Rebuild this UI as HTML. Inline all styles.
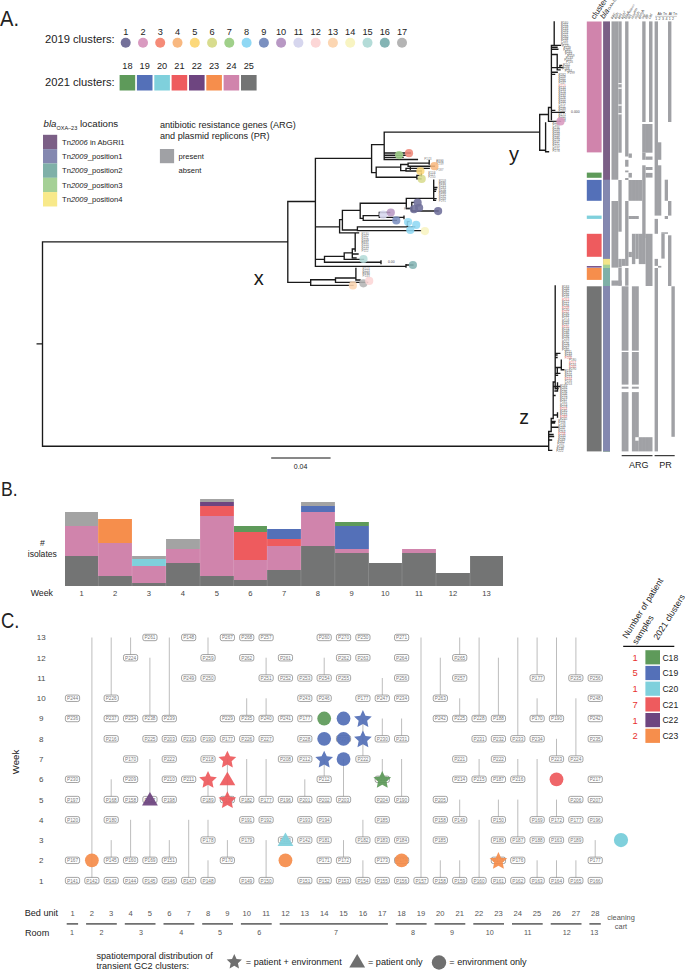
<!DOCTYPE html>
<html><head><meta charset="utf-8"><style>
html,body{margin:0;padding:0;background:#fff;width:685px;height:970px;overflow:hidden}
svg{display:block}
text{font-family:"Liberation Sans",sans-serif}
</style></head><body>
<svg width="685" height="970" viewBox="0 0 685 970">
<text x="0.0" y="25.9" font-size="21.5" fill="#222" text-anchor="start" textLength="19" lengthAdjust="spacingAndGlyphs">A.</text>
<text x="45.0" y="43.1" font-size="11.2" fill="#222" text-anchor="start" >2019 clusters:</text>
<text x="45.0" y="85.8" font-size="11.2" fill="#222" text-anchor="start" >2021 clusters:</text>
<circle cx="125.7" cy="42.8" r="5.0" fill="#74719a"/>
<text x="125.7" y="34.6" font-size="9.2" fill="#222" text-anchor="middle" >1</text>
<circle cx="143.0" cy="42.8" r="5.0" fill="#d99ac0"/>
<text x="143.0" y="34.6" font-size="9.2" fill="#222" text-anchor="middle" >2</text>
<circle cx="160.2" cy="42.8" r="5.0" fill="#f58b78"/>
<text x="160.2" y="34.6" font-size="9.2" fill="#222" text-anchor="middle" >3</text>
<circle cx="177.5" cy="42.8" r="5.0" fill="#f8b880"/>
<text x="177.5" y="34.6" font-size="9.2" fill="#222" text-anchor="middle" >4</text>
<circle cx="194.8" cy="42.8" r="5.0" fill="#fcd87a"/>
<text x="194.8" y="34.6" font-size="9.2" fill="#222" text-anchor="middle" >5</text>
<circle cx="212.1" cy="42.8" r="5.0" fill="#d8dc8e"/>
<text x="212.1" y="34.6" font-size="9.2" fill="#222" text-anchor="middle" >6</text>
<circle cx="229.3" cy="42.8" r="5.0" fill="#a0d08a"/>
<text x="229.3" y="34.6" font-size="9.2" fill="#222" text-anchor="middle" >7</text>
<circle cx="246.6" cy="42.8" r="5.0" fill="#90d8f4"/>
<text x="246.6" y="34.6" font-size="9.2" fill="#222" text-anchor="middle" >8</text>
<circle cx="263.9" cy="42.8" r="5.0" fill="#7b90c0"/>
<text x="263.9" y="34.6" font-size="9.2" fill="#222" text-anchor="middle" >9</text>
<circle cx="281.1" cy="42.8" r="5.0" fill="#b898c4"/>
<text x="281.1" y="34.6" font-size="9.2" fill="#222" text-anchor="middle" >10</text>
<circle cx="298.4" cy="42.8" r="5.0" fill="#d6d6ee"/>
<text x="298.4" y="34.6" font-size="9.2" fill="#222" text-anchor="middle" >11</text>
<circle cx="315.7" cy="42.8" r="5.0" fill="#fcd6d6"/>
<text x="315.7" y="34.6" font-size="9.2" fill="#222" text-anchor="middle" >12</text>
<circle cx="332.9" cy="42.8" r="5.0" fill="#fcd6b2"/>
<text x="332.9" y="34.6" font-size="9.2" fill="#222" text-anchor="middle" >13</text>
<circle cx="350.2" cy="42.8" r="5.0" fill="#f8f4c2"/>
<text x="350.2" y="34.6" font-size="9.2" fill="#222" text-anchor="middle" >14</text>
<circle cx="367.5" cy="42.8" r="5.0" fill="#b4dcd8"/>
<text x="367.5" y="34.6" font-size="9.2" fill="#222" text-anchor="middle" >15</text>
<circle cx="384.8" cy="42.8" r="5.0" fill="#84b4b4"/>
<text x="384.8" y="34.6" font-size="9.2" fill="#222" text-anchor="middle" >16</text>
<circle cx="402.0" cy="42.8" r="5.0" fill="#b4b4b4"/>
<text x="402.0" y="34.6" font-size="9.2" fill="#222" text-anchor="middle" >17</text>
<rect x="119.6" y="75" width="15.6" height="15.5" fill="#5e9a5a"/>
<text x="127.4" y="68.8" font-size="9.2" fill="#222" text-anchor="middle" >18</text>
<rect x="136.9" y="75" width="15.6" height="15.5" fill="#5470b8"/>
<text x="144.7" y="68.8" font-size="9.2" fill="#222" text-anchor="middle" >19</text>
<rect x="154.3" y="75" width="15.6" height="15.5" fill="#7fd0dc"/>
<text x="162.1" y="68.8" font-size="9.2" fill="#222" text-anchor="middle" >20</text>
<rect x="171.6" y="75" width="15.6" height="15.5" fill="#ee5b5e"/>
<text x="179.4" y="68.8" font-size="9.2" fill="#222" text-anchor="middle" >21</text>
<rect x="189.0" y="75" width="15.6" height="15.5" fill="#6e4580"/>
<text x="196.8" y="68.8" font-size="9.2" fill="#222" text-anchor="middle" >22</text>
<rect x="206.3" y="75" width="15.6" height="15.5" fill="#f68e4c"/>
<text x="214.1" y="68.8" font-size="9.2" fill="#222" text-anchor="middle" >23</text>
<rect x="223.6" y="75" width="15.6" height="15.5" fill="#d084ac"/>
<text x="231.4" y="68.8" font-size="9.2" fill="#222" text-anchor="middle" >24</text>
<rect x="241.0" y="75" width="15.6" height="15.5" fill="#737474"/>
<text x="248.8" y="68.8" font-size="9.2" fill="#222" text-anchor="middle" >25</text>
<text x="43.5" y="126.8" font-size="9.7" fill="#222"><tspan font-style="italic">bla</tspan><tspan font-size="5.5" dy="2.8">OXA–23</tspan><tspan dy="-2.8"> locations</tspan></text>
<rect x="43" y="134.80" width="14.2" height="14.4" fill="#7b5f86"/>
<text x="62.0" y="144.7" font-size="7.6" fill="#222" text-anchor="start" >Tn<tspan font-style="italic">2006</tspan> in AbGRI1</text>
<rect x="43" y="149.12" width="14.2" height="14.4" fill="#8488b0"/>
<text x="62.0" y="159.0" font-size="7.6" fill="#222" text-anchor="start" >Tn<tspan font-style="italic">2009</tspan>_position1</text>
<rect x="43" y="163.44" width="14.2" height="14.4" fill="#7fb0a8"/>
<text x="62.0" y="173.3" font-size="7.6" fill="#222" text-anchor="start" >Tn<tspan font-style="italic">2009</tspan>_position2</text>
<rect x="43" y="177.76" width="14.2" height="14.4" fill="#a5d096"/>
<text x="62.0" y="187.7" font-size="7.6" fill="#222" text-anchor="start" >Tn<tspan font-style="italic">2009</tspan>_position3</text>
<rect x="43" y="192.08" width="14.2" height="14.4" fill="#f8e98a"/>
<text x="62.0" y="202.0" font-size="7.6" fill="#222" text-anchor="start" >Tn<tspan font-style="italic">2009</tspan>_position4</text>
<text x="159.9" y="127.5" font-size="9.15" fill="#222" text-anchor="start" >antibiotic resistance genes (ARG)</text>
<text x="159.9" y="138.5" font-size="9.15" fill="#222" text-anchor="start" >and plasmid replicons (PR)</text>
<rect x="159.9" y="149" width="14.2" height="14.2" fill="#a0a1a5"/>
<text x="178.5" y="159.0" font-size="7.6" fill="#222" text-anchor="start" >present</text>
<text x="178.5" y="173.2" font-size="7.6" fill="#222" text-anchor="start" >absent</text>
<path d="M37.2 343.8H42.5M42.5 241.8V446.2M42.5 446.2H548.7M42.5 241.8H287.8M287.8 201.5V282.4M287.8 201.5H315.4M315.4 158.4V266.4M315.4 158.4H371.6M371.6 144.6V172.6M371.6 144.6H384.2M384.2 132.1V159.5M384.2 132.1H539.7M384.2 153.0H410.4M384.2 155.2H405.7M384.2 157.4H403.0M384.2 159.5H417.4M371.6 172.6H376.2M376.2 167.1V177.2M376.2 167.1H400.7M400.7 164.5V170.6M400.7 164.5H408.1M408.1 163.1V166.2M408.1 163.1H429.2M429.2 160.5V164.0M408.1 166.2H434.4M400.7 170.6H406.0M406.0 168.4V171.0M406.0 168.4H429.2M410.3 167.6V169.2M406.0 171.0H421.3M376.2 177.2H416.9M416.9 175.4V178.9M416.9 175.4H421.0M416.9 178.9H421.0M421.3 173.2V175.8M315.4 226.8H339.6M339.6 219.6V232.8M339.6 219.6H342.4M342.4 210.3V230.0M342.4 210.3H360.2M360.2 203.2V218.3M360.2 203.2H406.3M406.3 198.3V208.5M406.3 198.3H433.7M433.7 180.2V200.3M433.7 187.5H436.8M433.7 189.5H436.0M433.7 191.3H435.4M433.7 198.6H436.0M433.7 200.3H435.5M406.3 208.5H411.8M411.8 202.3V211.0M411.8 202.3H414.0M411.8 211.0H438.1M360.2 218.3H363.2M363.2 215.6V220.4M363.2 215.6H379.3M379.3 212.5V217.4M379.3 212.5H389.7M379.3 217.4H404.0M404.0 216.2V218.6M363.2 220.4H396.3M342.4 230.0H357.4M357.4 226.8V230.6M357.4 226.8H414.7M407.4 221.6V226.8M407.4 221.6H409.0M357.4 230.6H421.0M339.6 232.8H358.5M315.4 259.3H324.5M324.5 256.4V262.2M324.5 256.4H344.2M344.2 252.8V259.3M344.2 252.8H352.3M352.3 249.0V257.8M352.3 249.0H355.2M352.3 257.8H356.0M352.3 254.0H358.0M355.2 233.5V251.0M344.2 259.3H363.5M324.5 262.2H381.0M381.0 260.8V263.6M315.4 266.4H406.0M406.0 264.6V267.0M406.0 265.0H412.9M287.8 282.4H310.7M310.7 279.7V285.3M310.7 279.7H335.5M335.5 278.0V282.3M335.5 278.0H355.9M355.9 268.5V280.0M335.5 282.3H367.6M310.7 285.3H353.0M355.9 280.0H360.0M539.7 114.5V150.2M539.7 114.5H548.5M548.5 107.5V121.4M548.5 107.5H551.4M551.4 45.4V119.6M554.2 21.9V45.4M551.4 45.4H560.5M551.4 47.2H557.0M551.4 49.2H557.8M551.4 54.5H557.2M557.2 54.5V69.9M551.4 67.6H562.8M559.9 65.5V67.6M559.9 65.5H561.5M557.2 69.9H560.0M551.4 72.2H557.2M551.4 74.3H554.6M551.4 110.4H554.7M551.4 112.3H564.2M548.5 121.4H560.2M545.6 122.8V151.7M539.7 150.2H545.6M545.6 151.7H548.5M548.7 431.5V450.3M548.7 431.5H551.2M548.7 450.3H551.7M548.7 434.5H553.0M548.7 436.5H553.5M548.7 440.0H551.5M551.2 418.5V431.5M551.2 418.5H553.2M551.2 421.5H555.0M551.2 423.0H554.5M551.2 427.2H557.9M553.2 382.0V418.5M553.2 382.0H555.2M553.2 395.5H555.0M553.2 415.0H557.5M557.5 413.0V417.0M555.2 286.0V388.9M555.2 353.3H559.8M555.2 355.0H557.0M555.2 357.5H557.0M555.2 367.5H561.3M557.3 367.5V372.2M561.3 360.1V369.7M561.3 369.7H563.8M555.2 373.4H559.8M555.2 375.2H557.5M553.2 386.5H559.8M555.2 388.5H558.0M557.5 383.0V391.0M555.0 391.0H557.5" stroke="#1a1a1a" stroke-width="1.35" fill="none" stroke-linecap="square"/>
<g><text x="561.0" y="23.5" font-size="3.1" fill="#707070">P160</text><text x="561.0" y="25.6" font-size="3.1" fill="#707070">P251</text><text x="561.0" y="27.7" font-size="3.1" fill="#707070">P239</text><text x="561.0" y="29.8" font-size="3.1" fill="#707070">P133</text><text x="561.0" y="31.9" font-size="3.1" fill="#707070">P194</text><text x="561.0" y="34.0" font-size="3.1" fill="#707070">P254</text><text x="561.0" y="36.1" font-size="3.1" fill="#707070">P221</text><text x="561.0" y="38.2" font-size="3.1" fill="#707070">P260</text><text x="561.0" y="40.3" font-size="3.1" fill="#707070">P248</text><text x="561.0" y="42.4" font-size="3.1" fill="#707070">P116</text><text x="561.0" y="44.5" font-size="3.1" fill="#707070">P255</text><text x="562.1" y="46.6" font-size="3.1" fill="#707070">P220</text><text x="563.6" y="48.7" font-size="3.1" fill="#707070">P159</text><text x="563.2" y="50.8" font-size="3.1" fill="#707070">P283</text><text x="564.8" y="52.9" font-size="3.1" fill="#707070">P240</text><text x="564.9" y="55.0" font-size="3.1" fill="#707070">P263</text><text x="567.2" y="57.1" font-size="3.1" fill="#707070">P159</text><text x="565.8" y="59.2" font-size="3.1" fill="#707070">P233</text><text x="564.3" y="61.3" font-size="3.1" fill="#707070">P103</text><text x="566.0" y="63.4" font-size="3.1" fill="#707070">P116</text><text x="563.0" y="65.5" font-size="3.1" fill="#707070">P251</text><text x="562.3" y="67.6" font-size="3.1" fill="#707070">P299</text><text x="562.2" y="69.7" font-size="3.1" fill="#707070">P168</text><text x="564.8" y="71.8" font-size="3.1" fill="#707070">P284</text><text x="567.5" y="73.9" font-size="3.1" fill="#707070">P199</text><text x="558.4" y="76.0" font-size="3.1" fill="#707070">P282</text><text x="558.4" y="78.1" font-size="3.1" fill="#707070">P209</text><text x="558.4" y="80.2" font-size="3.1" fill="#707070">P201</text><text x="558.4" y="82.3" font-size="3.1" fill="#707070">P286</text><text x="558.4" y="84.4" font-size="3.1" fill="#707070">P247</text><text x="558.4" y="86.5" font-size="3.1" fill="#e88">P213</text><text x="558.4" y="88.6" font-size="3.1" fill="#707070">P134</text><text x="558.4" y="90.7" font-size="3.1" fill="#707070">P193</text><text x="558.4" y="92.8" font-size="3.1" fill="#707070">P124</text><text x="558.4" y="94.9" font-size="3.1" fill="#707070">P109</text><text x="558.4" y="97.0" font-size="3.1" fill="#707070">P134</text><text x="558.4" y="99.1" font-size="3.1" fill="#707070">P226</text><text x="558.4" y="101.2" font-size="3.1" fill="#707070">P155</text><text x="558.4" y="103.3" font-size="3.1" fill="#707070">P166</text><text x="558.4" y="105.4" font-size="3.1" fill="#707070">P272</text><text x="558.4" y="107.5" font-size="3.1" fill="#707070">P211</text><text x="558.4" y="109.6" font-size="3.1" fill="#707070">P299</text><text x="558.4" y="111.7" font-size="3.1" fill="#707070">P260</text><text x="558.4" y="115.9" font-size="3.1" fill="#707070">P177</text><text x="558.4" y="118.0" font-size="3.1" fill="#707070">P207</text><text x="558.4" y="120.1" font-size="3.1" fill="#707070">P229</text><text x="558.4" y="122.2" font-size="3.1" fill="#707070">P198</text><text x="552.5" y="124.3" font-size="3.1" fill="#707070">P246</text><text x="552.5" y="126.4" font-size="3.1" fill="#707070">P189</text><text x="552.5" y="128.5" font-size="3.1" fill="#707070">P236</text><text x="552.5" y="130.6" font-size="3.1" fill="#707070">P249</text><text x="552.5" y="132.7" font-size="3.1" fill="#707070">P204</text><text x="552.5" y="134.8" font-size="3.1" fill="#707070">P249</text><text x="552.5" y="136.9" font-size="3.1" fill="#707070">P159</text><text x="552.5" y="139.0" font-size="3.1" fill="#707070">P186</text><text x="552.5" y="141.1" font-size="3.1" fill="#707070">P274</text><text x="552.5" y="143.2" font-size="3.1" fill="#707070">P107</text><text x="552.5" y="145.3" font-size="3.1" fill="#707070">P171</text><text x="552.5" y="147.4" font-size="3.1" fill="#707070">P255</text><text x="552.5" y="149.5" font-size="3.1" fill="#707070">P271</text><text x="552.5" y="151.6" font-size="3.1" fill="#707070">P278</text><text x="562.0" y="287.9" font-size="3.1" fill="#707070">P183</text><text x="562.0" y="290.0" font-size="3.1" fill="#707070">P246</text><text x="562.0" y="292.1" font-size="3.1" fill="#707070">P282</text><text x="562.0" y="294.2" font-size="3.1" fill="#707070">P262</text><text x="562.0" y="296.3" font-size="3.1" fill="#707070">P246</text><text x="562.0" y="298.4" font-size="3.1" fill="#707070">P131</text><text x="562.0" y="300.5" font-size="3.1" fill="#e77">P263</text><text x="562.0" y="302.6" font-size="3.1" fill="#707070">P122</text><text x="562.0" y="304.7" font-size="3.1" fill="#707070">P117</text><text x="562.0" y="306.8" font-size="3.1" fill="#707070">P138</text><text x="562.0" y="308.9" font-size="3.1" fill="#e77">P209</text><text x="562.0" y="311.0" font-size="3.1" fill="#707070">P130</text><text x="562.0" y="313.1" font-size="3.1" fill="#e77">P257</text><text x="562.0" y="315.2" font-size="3.1" fill="#707070">P196</text><text x="562.0" y="317.3" font-size="3.1" fill="#707070">P184</text><text x="562.0" y="319.4" font-size="3.1" fill="#707070">P171</text><text x="562.0" y="321.5" font-size="3.1" fill="#707070">P109</text><text x="562.0" y="323.6" font-size="3.1" fill="#707070">P119</text><text x="562.0" y="325.7" font-size="3.1" fill="#707070">P237</text><text x="562.0" y="327.8" font-size="3.1" fill="#e77">P150</text><text x="562.0" y="329.9" font-size="3.1" fill="#707070">P174</text><text x="562.0" y="332.0" font-size="3.1" fill="#707070">P139</text><text x="562.0" y="334.1" font-size="3.1" fill="#707070">P186</text><text x="562.0" y="336.2" font-size="3.1" fill="#707070">P135</text><text x="562.0" y="338.3" font-size="3.1" fill="#707070">P196</text><text x="562.0" y="340.4" font-size="3.1" fill="#707070">P233</text><text x="562.0" y="342.5" font-size="3.1" fill="#707070">P252</text><text x="562.0" y="344.6" font-size="3.1" fill="#707070">P126</text><text x="562.0" y="346.7" font-size="3.1" fill="#707070">P229</text><text x="562.0" y="348.8" font-size="3.1" fill="#707070">P262</text><text x="562.0" y="350.9" font-size="3.1" fill="#707070">P160</text><text x="564.7" y="353.0" font-size="3.1" fill="#707070">P211</text><text x="564.7" y="355.1" font-size="3.1" fill="#707070">P233</text><text x="564.7" y="357.2" font-size="3.1" fill="#707070">P186</text><text x="564.7" y="359.3" font-size="3.1" fill="#e77">P206</text><text x="569.0" y="361.4" font-size="3.1" fill="#707070">P180</text><text x="569.0" y="363.5" font-size="3.1" fill="#e77">P257</text><text x="569.0" y="365.6" font-size="3.1" fill="#707070">P134</text><text x="569.0" y="367.7" font-size="3.1" fill="#e77">P260</text><text x="569.0" y="369.8" font-size="3.1" fill="#707070">P190</text><text x="564.7" y="371.9" font-size="3.1" fill="#707070">P190</text><text x="564.7" y="374.0" font-size="3.1" fill="#707070">P171</text><text x="564.7" y="376.1" font-size="3.1" fill="#707070">P105</text><text x="564.7" y="378.2" font-size="3.1" fill="#707070">P273</text><text x="564.7" y="380.3" font-size="3.1" fill="#e77">P194</text><text x="564.7" y="382.4" font-size="3.1" fill="#707070">P216</text><text x="564.7" y="384.5" font-size="3.1" fill="#707070">P253</text><text x="560.0" y="386.6" font-size="3.1" fill="#707070">P193</text><text x="560.0" y="388.7" font-size="3.1" fill="#707070">P294</text><text x="560.0" y="390.8" font-size="3.1" fill="#707070">P252</text><text x="560.0" y="392.9" font-size="3.1" fill="#707070">P196</text><text x="560.0" y="395.0" font-size="3.1" fill="#707070">P106</text><text x="560.0" y="397.1" font-size="3.1" fill="#707070">P275</text><text x="560.0" y="399.2" font-size="3.1" fill="#707070">P179</text><text x="560.0" y="401.3" font-size="3.1" fill="#707070">P267</text><text x="560.0" y="403.4" font-size="3.1" fill="#707070">P161</text><text x="560.0" y="405.5" font-size="3.1" fill="#707070">P273</text><text x="560.0" y="407.6" font-size="3.1" fill="#707070">P278</text><text x="560.0" y="409.7" font-size="3.1" fill="#e77">P253</text><text x="560.0" y="411.8" font-size="3.1" fill="#707070">P185</text><text x="560.0" y="413.9" font-size="3.1" fill="#707070">P157</text><text x="560.0" y="416.0" font-size="3.1" fill="#707070">P143</text><text x="560.0" y="418.1" font-size="3.1" fill="#e77">P289</text><text x="560.0" y="420.2" font-size="3.1" fill="#707070">P245</text><text x="558.2" y="422.3" font-size="3.1" fill="#707070">P157</text><text x="558.2" y="424.4" font-size="3.1" fill="#707070">P108</text><text x="558.2" y="426.5" font-size="3.1" fill="#707070">P148</text><text x="558.2" y="428.6" font-size="3.1" fill="#707070">P247</text><text x="558.2" y="430.7" font-size="3.1" fill="#707070">P171</text><text x="558.2" y="432.8" font-size="3.1" fill="#707070">P264</text><text x="558.2" y="434.9" font-size="3.1" fill="#e77">P258</text><text x="558.2" y="437.0" font-size="3.1" fill="#707070">P133</text><text x="558.2" y="439.1" font-size="3.1" fill="#707070">P232</text><text x="557.9" y="441.2" font-size="3.1" fill="#707070">P169</text><text x="557.5" y="443.3" font-size="3.1" fill="#707070">P262</text><text x="557.2" y="445.4" font-size="3.1" fill="#707070">P207</text><text x="556.9" y="447.5" font-size="3.1" fill="#707070">P109</text><text x="556.6" y="449.6" font-size="3.1" fill="#707070">P139</text><text x="556.3" y="451.7" font-size="3.1" fill="#707070">P222</text><text x="438.8" y="181.7" font-size="3.1" fill="#888">P259</text><text x="438.8" y="183.5" font-size="3.1" fill="#888">P230</text><text x="438.8" y="185.3" font-size="3.1" fill="#888">P211</text><text x="438.8" y="187.1" font-size="3.1" fill="#888">P243</text><text x="438.8" y="188.9" font-size="3.1" fill="#888">P283</text><text x="438.8" y="190.7" font-size="3.1" fill="#888">P156</text><text x="438.8" y="192.5" font-size="3.1" fill="#888">P108</text><text x="438.8" y="194.3" font-size="3.1" fill="#888">P290</text><text x="438.8" y="196.1" font-size="3.1" fill="#888">P216</text><text x="438.8" y="197.9" font-size="3.1" fill="#888">P292</text><text x="438.8" y="199.7" font-size="3.1" fill="#888">P269</text><text x="438.8" y="201.5" font-size="3.1" fill="#888">P291</text><text x="436.2" y="161.5" font-size="3.1" fill="#888">P232</text><text x="436.2" y="163.3" font-size="3.1" fill="#888">P173</text><text x="436.2" y="165.1" font-size="3.1" fill="#888">P239</text><text x="436.2" y="171.1" font-size="3.1" fill="#888">P187</text><text x="428.3" y="174.3" font-size="3.1" fill="#888">P158</text><text x="428.3" y="176.1" font-size="3.1" fill="#888">P117</text><text x="428.3" y="177.9" font-size="3.1" fill="#888">P250</text><text x="424.3" y="159.7" font-size="3.1" fill="#888">P173</text><text x="361.5" y="235.4" font-size="3.1" fill="#888">P130</text><text x="361.5" y="237.2" font-size="3.1" fill="#888">P162</text><text x="361.5" y="239.0" font-size="3.1" fill="#888">P111</text><text x="361.5" y="240.8" font-size="3.1" fill="#888">P108</text><text x="361.5" y="242.6" font-size="3.1" fill="#888">P277</text><text x="361.5" y="244.4" font-size="3.1" fill="#888">P231</text><text x="361.5" y="246.2" font-size="3.1" fill="#888">P150</text><text x="361.5" y="248.0" font-size="3.1" fill="#888">P210</text><text x="361.5" y="249.8" font-size="3.1" fill="#888">P247</text><text x="361.5" y="251.6" font-size="3.1" fill="#888">P112</text><text x="362.5" y="269.9" font-size="3.1" fill="#888">P103</text><text x="362.5" y="271.7" font-size="3.1" fill="#888">P223</text><text x="362.5" y="273.5" font-size="3.1" fill="#888">P290</text><text x="362.5" y="275.3" font-size="3.1" fill="#888">P130</text><text x="362.5" y="277.1" font-size="3.1" fill="#888">P143</text><text x="404.0" y="209.9" font-size="3.1" fill="#888">P228</text></g>
<circle cx="409.0" cy="153.2" r="4.1" fill="#f0897a" fill-opacity="0.88"/>
<circle cx="399.1" cy="155.1" r="4.1" fill="#a0d08a" fill-opacity="0.88"/>
<circle cx="434.4" cy="166.2" r="4.1" fill="#f8b880" fill-opacity="0.88"/>
<circle cx="420.4" cy="171.0" r="4.1" fill="#fcd87a" fill-opacity="0.88"/>
<circle cx="421.7" cy="178.9" r="4.1" fill="#d8dc8e" fill-opacity="0.88"/>
<circle cx="417.6" cy="202.7" r="4.1" fill="#6e6e9a" fill-opacity="0.88"/>
<circle cx="414.0" cy="209.2" r="4.1" fill="#6e6e9a" fill-opacity="0.88"/>
<circle cx="419.1" cy="207.8" r="4.1" fill="#6e6e9a" fill-opacity="0.88"/>
<circle cx="438.1" cy="211.1" r="4.1" fill="#6e6e9a" fill-opacity="0.88"/>
<circle cx="383.2" cy="214.7" r="4.1" fill="#d6d6ee" fill-opacity="0.88"/>
<circle cx="390.8" cy="212.5" r="4.1" fill="#b898c4" fill-opacity="0.88"/>
<circle cx="396.3" cy="220.4" r="4.1" fill="#7b90c0" fill-opacity="0.88"/>
<circle cx="408.1" cy="222.0" r="4.1" fill="#90d8f4" fill-opacity="0.88"/>
<circle cx="416.2" cy="224.9" r="4.1" fill="#90d8f4" fill-opacity="0.88"/>
<circle cx="410.3" cy="230.0" r="4.1" fill="#90d8f4" fill-opacity="0.88"/>
<circle cx="424.9" cy="231.1" r="4.1" fill="#f8f4c2" fill-opacity="0.88"/>
<circle cx="363.5" cy="259.0" r="4.1" fill="#b4dcd8" fill-opacity="0.88"/>
<circle cx="412.9" cy="265.0" r="4.1" fill="#84b4b4" fill-opacity="0.88"/>
<circle cx="352.9" cy="285.4" r="4.1" fill="#fcd6b2" fill-opacity="0.88"/>
<circle cx="363.4" cy="283.3" r="4.1" fill="#b4b4b4" fill-opacity="0.88"/>
<circle cx="369.2" cy="280.9" r="4.1" fill="#fcd6d6" fill-opacity="0.88"/>
<circle cx="560.5" cy="121.4" r="4.1" fill="#d99ac0" fill-opacity="0.88"/>
<text x="571.1" y="113.4" font-size="3.4" fill="#444" text-anchor="start" >0.000</text>
<text x="388.0" y="263.4" font-size="3.4" fill="#444" text-anchor="start" >0.00</text>
<text x="258.7" y="284.9" font-size="20" fill="#1a1a1a" text-anchor="middle" >x</text>
<text x="514.1" y="161.4" font-size="20" fill="#1a1a1a" text-anchor="middle" >y</text>
<text x="524.0" y="424.1" font-size="19.5" fill="#1a1a1a" text-anchor="middle" >z</text>
<path d="M271.2 458H330.6" stroke="#111" stroke-width="1"/>
<text x="300.6" y="469.0" font-size="7" fill="#222" text-anchor="middle" >0.04</text>
<rect x="586.8" y="21.5" width="14.8" height="130.9" fill="#d084ac"/>
<rect x="586.8" y="172.6" width="14.8" height="5.2" fill="#5e9a5a"/>
<rect x="586.8" y="179.9" width="14.8" height="20.9" fill="#5470b8"/>
<rect x="586.8" y="215.6" width="14.8" height="3.3" fill="#7fd0dc"/>
<rect x="586.8" y="233.8" width="14.8" height="23.0" fill="#ee5b5e"/>
<rect x="586.8" y="266.1" width="14.8" height="1.5" fill="#6e4580"/>
<rect x="586.8" y="268.0" width="14.8" height="11.9" fill="#f68e4c"/>
<rect x="586.8" y="286.3" width="14.8" height="165.1" fill="#737474"/>
<rect x="603.1" y="21.4" width="6.9" height="430.0" fill="#7b5f86"/>
<rect x="603.1" y="179.7" width="6.9" height="271.7" fill="#8488b0"/>
<rect x="603.1" y="258.9" width="6.9" height="192.5" fill="#f3e58a"/>
<rect x="603.1" y="264.7" width="6.9" height="186.7" fill="#a5d096"/>
<rect x="603.1" y="268.0" width="6.9" height="183.4" fill="#7fb0a8"/>
<rect x="603.1" y="286.0" width="6.9" height="165.4" fill="#8488b0"/>
<rect x="611.5" y="21.4" width="6.8" height="158.3" fill="#a0a1a5"/>
<rect x="618.3" y="21.4" width="3.4" height="131.3" fill="#a0a1a5"/>
<rect x="625.1" y="21.4" width="3.4" height="135.1" fill="#a0a1a5"/>
<rect x="628.5" y="153.5" width="3.4" height="4.3" fill="#a0a1a5"/>
<rect x="625.1" y="159.8" width="3.4" height="6.9" fill="#a0a1a5"/>
<rect x="625.1" y="170.5" width="3.4" height="1.8" fill="#a0a1a5"/>
<rect x="628.5" y="172.9" width="3.4" height="4.7" fill="#a0a1a5"/>
<rect x="625.1" y="178.0" width="3.4" height="2.0" fill="#a0a1a5"/>
<rect x="642.2" y="21.4" width="3.4" height="100.6" fill="#a0a1a5"/>
<rect x="649.0" y="21.4" width="3.5" height="100.6" fill="#a0a1a5"/>
<rect x="642.2" y="124.0" width="10.3" height="28.7" fill="#a0a1a5"/>
<rect x="642.2" y="152.7" width="3.4" height="7.1" fill="#a0a1a5"/>
<rect x="645.6" y="156.5" width="6.9" height="3.3" fill="#a0a1a5"/>
<rect x="642.2" y="165.3" width="3.4" height="72.7" fill="#a0a1a5"/>
<rect x="645.6" y="167.0" width="6.9" height="3.0" fill="#a0a1a5"/>
<rect x="645.6" y="172.9" width="6.9" height="4.7" fill="#a0a1a5"/>
<rect x="654.6" y="21.4" width="3.4" height="194.2" fill="#a0a1a5"/>
<rect x="658.0" y="142.3" width="3.3" height="17.5" fill="#a0a1a5"/>
<rect x="658.0" y="165.3" width="3.3" height="50.3" fill="#a0a1a5"/>
<rect x="668.0" y="21.4" width="3.4" height="100.6" fill="#a0a1a5"/>
<rect x="618.3" y="180.0" width="3.4" height="21.0" fill="#a0a1a5"/>
<rect x="611.5" y="201.0" width="6.8" height="66.6" fill="#a0a1a5"/>
<rect x="618.3" y="201.0" width="3.4" height="30.7" fill="#a0a1a5"/>
<rect x="618.3" y="258.9" width="3.4" height="8.7" fill="#a0a1a5"/>
<rect x="618.3" y="268.0" width="3.4" height="17.7" fill="#a0a1a5"/>
<rect x="611.5" y="280.5" width="10.2" height="5.2" fill="#a0a1a5"/>
<rect x="625.1" y="201.0" width="3.4" height="64.9" fill="#a0a1a5"/>
<rect x="625.1" y="268.0" width="3.4" height="17.7" fill="#a0a1a5"/>
<rect x="621.7" y="258.9" width="3.4" height="7.0" fill="#a0a1a5"/>
<rect x="628.5" y="180.0" width="13.7" height="20.8" fill="#a0a1a5"/>
<rect x="628.5" y="216.0" width="10.3" height="3.0" fill="#a0a1a5"/>
<rect x="628.5" y="251.9" width="3.4" height="5.2" fill="#a0a1a5"/>
<rect x="631.9" y="233.8" width="3.4" height="30.3" fill="#a0a1a5"/>
<rect x="635.3" y="233.8" width="3.5" height="25.1" fill="#a0a1a5"/>
<rect x="638.8" y="233.8" width="6.8" height="30.3" fill="#a0a1a5"/>
<rect x="645.6" y="233.8" width="6.9" height="52.2" fill="#a0a1a5"/>
<rect x="654.6" y="218.9" width="3.4" height="14.9" fill="#a0a1a5"/>
<rect x="654.6" y="258.9" width="3.4" height="7.0" fill="#a0a1a5"/>
<rect x="654.6" y="268.0" width="3.4" height="18.0" fill="#a0a1a5"/>
<rect x="658.0" y="265.9" width="3.3" height="1.7" fill="#a0a1a5"/>
<rect x="664.7" y="179.7" width="3.3" height="21.1" fill="#a0a1a5"/>
<rect x="668.0" y="201.0" width="3.4" height="14.6" fill="#a0a1a5"/>
<rect x="664.7" y="216.0" width="3.3" height="3.0" fill="#a0a1a5"/>
<rect x="661.3" y="232.3" width="6.7" height="1.5" fill="#a0a1a5"/>
<rect x="661.3" y="233.8" width="3.4" height="24.8" fill="#a0a1a5"/>
<rect x="668.0" y="235.3" width="3.4" height="50.7" fill="#a0a1a5"/>
<rect x="621.7" y="286.3" width="6.8" height="64.4" fill="#a0a1a5"/>
<rect x="621.7" y="352.0" width="6.8" height="32.6" fill="#a0a1a5"/>
<rect x="621.7" y="386.7" width="6.8" height="2.0" fill="#a0a1a5"/>
<rect x="621.7" y="392.1" width="6.8" height="59.3" fill="#a0a1a5"/>
<rect x="631.9" y="286.3" width="6.9" height="64.4" fill="#a0a1a5"/>
<rect x="631.9" y="352.0" width="6.9" height="32.6" fill="#a0a1a5"/>
<rect x="631.9" y="386.7" width="6.9" height="2.0" fill="#a0a1a5"/>
<rect x="631.9" y="392.1" width="6.9" height="59.3" fill="#a0a1a5"/>
<rect x="635.3" y="437.2" width="3.5" height="3.5" fill="#fff"/>
<rect x="638.8" y="437.2" width="13.7" height="14.2" fill="#a0a1a5"/>
<rect x="654.6" y="286.0" width="3.4" height="165.4" fill="#a0a1a5"/>
<rect x="671.4" y="286.3" width="3.4" height="150.5" fill="#a0a1a5"/>
<rect x="618.3" y="83.1" width="3.5" height="1.1" fill="#fff"/>
<rect x="618.3" y="87.5" width="3.5" height="1.3" fill="#fff"/>
<rect x="618.3" y="104.4" width="3.5" height="1.3" fill="#fff"/>
<rect x="618.3" y="113.1" width="3.5" height="1.3" fill="#fff"/>
<path d="M614.9 21V452M618.3 21V452M621.7 21V452M625.1 21V452M628.5 21V452M631.9 21V452M635.3 21V452M638.8 21V452M642.2 21V452M645.6 21V452M649.0 21V452M658.0 21V452M661.3 21V452M664.7 21V452M668.0 21V452M671.4 21V452" stroke="#fff" stroke-width="0.3" stroke-opacity="0.15"/>
<path d="M621.7 455.7H652.5M654.6 455.7H674.7" stroke="#111" stroke-width="1"/>
<text x="638.7" y="467.7" font-size="9" fill="#222" text-anchor="middle" >ARG</text>
<text x="665.4" y="467.7" font-size="9" fill="#222" text-anchor="middle" >PR</text>
<text transform="translate(594.8 19.8) rotate(-57)" font-size="7.9" fill="#222">cluster</text>
<text transform="translate(604.0 19.2) rotate(-57)" font-size="7.6" fill="#222"><tspan font-style="italic">bla</tspan><tspan font-size="3.6" dy="-0.2" dx="0.8">OXA-23</tspan></text>
<text transform="translate(612.6 19.2) rotate(-62)" font-size="4.0" font-style="italic" fill="#444">aac</text>
<text transform="translate(616.0 19.2) rotate(-62)" font-size="4.0" font-style="italic" fill="#444">aph</text>
<text transform="translate(619.4 19.2) rotate(-62)" font-size="4.0" font-style="italic" fill="#444">ant</text>
<text transform="translate(622.8 19.2) rotate(-62)" font-size="4.0" font-style="italic" fill="#444">aph<tspan font-size="2.4" dy="-1.5">3</tspan></text>
<text transform="translate(626.2 19.2) rotate(-62)" font-size="4.0" font-style="italic" fill="#444">blaA</text>
<text transform="translate(629.6 19.2) rotate(-62)" font-size="4.0" font-style="italic" fill="#444">tet</text>
<text transform="translate(633.0 19.2) rotate(-62)" font-size="4.0" font-style="italic" fill="#444">msr</text>
<text transform="translate(636.4 19.2) rotate(-62)" font-size="4.0" font-style="italic" fill="#444">mph</text>
<text transform="translate(639.9 19.2) rotate(-62)" font-size="4.0" font-style="italic" fill="#444">armA</text>
<text transform="translate(643.3 19.2) rotate(-62)" font-size="4.0" font-style="italic" fill="#444">sul</text>
<text transform="translate(646.7 19.2) rotate(-62)" font-size="4.0" font-style="italic" fill="#444">dfr</text>
<text transform="translate(650.1 19.2) rotate(-62)" font-size="4.0" font-style="italic" fill="#444">cat</text>
<text transform="translate(630.6 12.5) rotate(-62)" font-size="3.2" font-style="italic" fill="#444">bla<tspan font-size="2.2">ADC</tspan></text>
<text transform="translate(635.2 13.0) rotate(-62)" font-size="3.2" font-style="italic" fill="#444">tet<tspan font-size="2.2">B</tspan></text>
<text x="657.6" y="14.6" font-size="3.6" fill="#444">Ab Tn</text>
<text x="668.7" y="14.6" font-size="3.6" fill="#444">Af Tn</text>
<path d="M655.2 16.3H676.8" stroke="#666" stroke-width="0.4"/>
<text x="656.3" y="20.4" font-size="3.6" fill="#444" text-anchor="middle">1</text>
<text x="659.6" y="20.4" font-size="3.6" fill="#444" text-anchor="middle">2</text>
<text x="663.0" y="20.4" font-size="3.6" fill="#444" text-anchor="middle">3</text>
<text x="666.4" y="20.4" font-size="3.6" fill="#444" text-anchor="middle">4</text>
<text x="669.7" y="20.4" font-size="3.6" fill="#444" text-anchor="middle">1</text>
<text x="673.1" y="20.4" font-size="3.6" fill="#444" text-anchor="middle">2</text>
<text x="1.0" y="495.7" font-size="21" fill="#222" text-anchor="start" textLength="16.6" lengthAdjust="spacingAndGlyphs">B.</text>
<rect x="64.8" y="512.1" width="33.6" height="73.7" fill="#a3a3a3" shape-rendering="crispEdges"/>
<rect x="64.8" y="525.5" width="33.6" height="60.3" fill="#d084ac" shape-rendering="crispEdges"/>
<rect x="64.8" y="555.9" width="33.6" height="29.9" fill="#737474" shape-rendering="crispEdges"/>
<text x="81.6" y="596.0" font-size="7.6" fill="#444" text-anchor="middle" >1</text>
<rect x="98.4" y="518.8" width="33.6" height="67.0" fill="#f68e4c" shape-rendering="crispEdges"/>
<rect x="98.4" y="542.7" width="33.6" height="43.1" fill="#d084ac" shape-rendering="crispEdges"/>
<rect x="98.4" y="576.3" width="33.6" height="9.5" fill="#737474" shape-rendering="crispEdges"/>
<text x="115.2" y="596.0" font-size="7.6" fill="#444" text-anchor="middle" >2</text>
<rect x="132.0" y="555.9" width="33.8" height="29.9" fill="#a3a3a3" shape-rendering="crispEdges"/>
<rect x="132.0" y="559.1" width="33.8" height="26.7" fill="#7fd0dc" shape-rendering="crispEdges"/>
<rect x="132.0" y="566.1" width="33.8" height="19.7" fill="#d084ac" shape-rendering="crispEdges"/>
<rect x="132.0" y="583.0" width="33.8" height="2.8" fill="#737474" shape-rendering="crispEdges"/>
<text x="148.9" y="596.0" font-size="7.6" fill="#444" text-anchor="middle" >3</text>
<rect x="165.8" y="538.6" width="34.2" height="47.2" fill="#a3a3a3" shape-rendering="crispEdges"/>
<rect x="165.8" y="548.9" width="34.2" height="36.9" fill="#d084ac" shape-rendering="crispEdges"/>
<rect x="165.8" y="562.6" width="34.2" height="23.2" fill="#737474" shape-rendering="crispEdges"/>
<text x="182.9" y="596.0" font-size="7.6" fill="#444" text-anchor="middle" >4</text>
<rect x="200.0" y="499.2" width="33.6" height="86.6" fill="#a3a3a3" shape-rendering="crispEdges"/>
<rect x="200.0" y="502.0" width="33.6" height="83.8" fill="#6e4580" shape-rendering="crispEdges"/>
<rect x="200.0" y="505.5" width="33.6" height="80.3" fill="#ee5b5e" shape-rendering="crispEdges"/>
<rect x="200.0" y="515.7" width="33.6" height="70.1" fill="#d084ac" shape-rendering="crispEdges"/>
<rect x="200.0" y="576.2" width="33.6" height="9.6" fill="#737474" shape-rendering="crispEdges"/>
<text x="216.8" y="596.0" font-size="7.6" fill="#444" text-anchor="middle" >5</text>
<rect x="233.6" y="526.0" width="33.6" height="59.8" fill="#5e9a5a" shape-rendering="crispEdges"/>
<rect x="233.6" y="532.3" width="33.6" height="53.5" fill="#ee5b5e" shape-rendering="crispEdges"/>
<rect x="233.6" y="559.6" width="33.6" height="26.2" fill="#d084ac" shape-rendering="crispEdges"/>
<rect x="233.6" y="579.6" width="33.6" height="6.2" fill="#737474" shape-rendering="crispEdges"/>
<text x="250.4" y="596.0" font-size="7.6" fill="#444" text-anchor="middle" >6</text>
<rect x="267.2" y="529.1" width="33.7" height="56.7" fill="#5470b8" shape-rendering="crispEdges"/>
<rect x="267.2" y="539.1" width="33.7" height="46.7" fill="#ee5b5e" shape-rendering="crispEdges"/>
<rect x="267.2" y="545.9" width="33.7" height="39.9" fill="#d084ac" shape-rendering="crispEdges"/>
<rect x="267.2" y="569.6" width="33.7" height="16.2" fill="#737474" shape-rendering="crispEdges"/>
<text x="284.0" y="596.0" font-size="7.6" fill="#444" text-anchor="middle" >7</text>
<rect x="300.9" y="502.1" width="33.9" height="83.7" fill="#a3a3a3" shape-rendering="crispEdges"/>
<rect x="300.9" y="505.7" width="33.9" height="80.1" fill="#5470b8" shape-rendering="crispEdges"/>
<rect x="300.9" y="512.3" width="33.9" height="73.5" fill="#d084ac" shape-rendering="crispEdges"/>
<rect x="300.9" y="545.9" width="33.9" height="39.9" fill="#737474" shape-rendering="crispEdges"/>
<text x="317.9" y="596.0" font-size="7.6" fill="#444" text-anchor="middle" >8</text>
<rect x="334.8" y="522.3" width="33.7" height="63.5" fill="#5e9a5a" shape-rendering="crispEdges"/>
<rect x="334.8" y="526.0" width="33.7" height="59.8" fill="#5470b8" shape-rendering="crispEdges"/>
<rect x="334.8" y="549.1" width="33.7" height="36.7" fill="#d084ac" shape-rendering="crispEdges"/>
<rect x="334.8" y="552.8" width="33.7" height="33.0" fill="#737474" shape-rendering="crispEdges"/>
<text x="351.6" y="596.0" font-size="7.6" fill="#444" text-anchor="middle" >9</text>
<rect x="368.5" y="562.9" width="33.5" height="22.9" fill="#737474" shape-rendering="crispEdges"/>
<text x="385.2" y="596.0" font-size="7.6" fill="#444" text-anchor="middle" >10</text>
<rect x="402.0" y="549.2" width="34.0" height="36.6" fill="#d084ac" shape-rendering="crispEdges"/>
<rect x="402.0" y="552.7" width="34.0" height="33.1" fill="#737474" shape-rendering="crispEdges"/>
<text x="419.0" y="596.0" font-size="7.6" fill="#444" text-anchor="middle" >11</text>
<rect x="436.0" y="572.7" width="34.0" height="13.1" fill="#737474" shape-rendering="crispEdges"/>
<text x="453.0" y="596.0" font-size="7.6" fill="#444" text-anchor="middle" >12</text>
<rect x="470.0" y="555.8" width="33.2" height="30.0" fill="#737474" shape-rendering="crispEdges"/>
<text x="486.6" y="596.0" font-size="7.6" fill="#444" text-anchor="middle" >13</text>
<path d="M98.4 480V586M132.0 480V586M165.8 480V586M200.0 480V586M233.6 480V586M267.2 480V586M300.9 480V586M334.8 480V586M368.5 480V586M402.0 480V586M436.0 480V586M470.0 480V586" stroke="#fff" stroke-width="0.4" stroke-opacity="0.35"/>
<text x="42.3" y="545.8" font-size="8.6" fill="#222" text-anchor="middle" >#</text>
<text x="42.3" y="556.9" font-size="8.6" fill="#222" text-anchor="middle" >isolates</text>
<text x="30.7" y="595.9" font-size="8.8" fill="#222" text-anchor="start" >Week</text>
<text x="1.0" y="627.9" font-size="21.5" fill="#222" text-anchor="start" textLength="18.4" lengthAdjust="spacingAndGlyphs">C.</text>
<path d="M91.9 880.6V637.5M111.2 698.3V637.5M111.2 799.6V779.3M111.2 860.3V840.1M130.6 657.7V637.5M130.6 860.3V819.8M149.9 718.5V657.7M149.9 799.6V759.0M149.9 860.3V819.8M169.3 718.5V637.5M169.3 860.3V840.1M188.7 880.6V819.8M208.0 657.7V637.5M208.0 799.6V779.3M208.0 840.1V819.8M208.0 880.6V860.3M227.4 799.6V759.0M227.4 860.3V840.1M246.7 718.5V698.3M246.7 799.6V759.0M266.1 678.0V657.7M266.1 718.5V698.3M266.1 799.6V759.0M266.1 880.6V840.1M304.8 799.6V779.3M324.2 678.0V657.7M324.2 779.3V759.0M343.5 799.6V759.0M343.5 860.3V840.1M362.9 759.0V718.5M362.9 840.1V819.8M362.9 880.6V860.3M382.3 698.3V678.0M382.3 738.8V718.5M382.3 779.3V759.0M401.6 738.8V718.5M401.6 799.6V759.0M421.0 880.6V637.5M440.3 698.3V657.7M440.3 880.6V860.3M459.7 657.7V637.5M459.7 718.5V698.3M459.7 819.8V799.6M459.7 880.6V860.3M479.1 718.5V637.5M479.1 779.3V759.0M479.1 880.6V819.8M498.4 718.5V657.7M498.4 819.8V799.6M517.8 738.8V637.5M517.8 779.3V759.0M517.8 840.1V799.6M537.1 678.0V637.5M537.1 718.5V698.3M537.1 819.8V759.0M537.1 880.6V860.3M556.5 718.5V637.5M556.5 759.0V738.8M556.5 819.8V799.6M556.5 880.6V860.3M575.9 678.0V637.5M575.9 759.0V698.3M575.9 880.6V860.3M595.2 860.3V840.1" stroke="#bdbdbd" stroke-width="1"/>
<rect x="65.40" y="695.06" width="14.2" height="6.4" rx="1.9" fill="#fff" stroke="#737373" stroke-width="0.65"/><text x="72.50" y="700.21" font-size="5.4" fill="#7a7a7a" textLength="11" lengthAdjust="spacingAndGlyphs" text-anchor="middle">P244</text><rect x="65.40" y="715.32" width="14.2" height="6.4" rx="1.9" fill="#fff" stroke="#737373" stroke-width="0.65"/><text x="72.50" y="720.47" font-size="5.4" fill="#7a7a7a" textLength="11" lengthAdjust="spacingAndGlyphs" text-anchor="middle">P236</text><rect x="65.40" y="776.10" width="14.2" height="6.4" rx="1.9" fill="#fff" stroke="#737373" stroke-width="0.65"/><text x="72.50" y="781.25" font-size="5.4" fill="#7a7a7a" textLength="11" lengthAdjust="spacingAndGlyphs" text-anchor="middle">P230</text><rect x="65.40" y="796.36" width="14.2" height="6.4" rx="1.9" fill="#fff" stroke="#737373" stroke-width="0.65"/><text x="72.50" y="801.51" font-size="5.4" fill="#7a7a7a" textLength="11" lengthAdjust="spacingAndGlyphs" text-anchor="middle">P197</text><rect x="65.40" y="816.62" width="14.2" height="6.4" rx="1.9" fill="#fff" stroke="#737373" stroke-width="0.65"/><text x="72.50" y="821.77" font-size="5.4" fill="#7a7a7a" textLength="11" lengthAdjust="spacingAndGlyphs" text-anchor="middle">P120</text><rect x="65.40" y="857.14" width="14.2" height="6.4" rx="1.9" fill="#fff" stroke="#737373" stroke-width="0.65"/><text x="72.50" y="862.29" font-size="5.4" fill="#7a7a7a" textLength="11" lengthAdjust="spacingAndGlyphs" text-anchor="middle">P167</text><rect x="65.40" y="877.40" width="14.2" height="6.4" rx="1.9" fill="#fff" stroke="#737373" stroke-width="0.65"/><text x="72.50" y="882.55" font-size="5.4" fill="#7a7a7a" textLength="11" lengthAdjust="spacingAndGlyphs" text-anchor="middle">P141</text><rect x="84.76" y="877.40" width="14.2" height="6.4" rx="1.9" fill="#fff" stroke="#737373" stroke-width="0.65"/><text x="91.86" y="882.55" font-size="5.4" fill="#7a7a7a" textLength="11" lengthAdjust="spacingAndGlyphs" text-anchor="middle">P142</text><rect x="104.12" y="695.06" width="14.2" height="6.4" rx="1.9" fill="#fff" stroke="#737373" stroke-width="0.65"/><text x="111.22" y="700.21" font-size="5.4" fill="#7a7a7a" textLength="11" lengthAdjust="spacingAndGlyphs" text-anchor="middle">P226</text><rect x="104.12" y="715.32" width="14.2" height="6.4" rx="1.9" fill="#fff" stroke="#737373" stroke-width="0.65"/><text x="111.22" y="720.47" font-size="5.4" fill="#7a7a7a" textLength="11" lengthAdjust="spacingAndGlyphs" text-anchor="middle">P237</text><rect x="104.12" y="735.58" width="14.2" height="6.4" rx="1.9" fill="#fff" stroke="#737373" stroke-width="0.65"/><text x="111.22" y="740.73" font-size="5.4" fill="#7a7a7a" textLength="11" lengthAdjust="spacingAndGlyphs" text-anchor="middle">P216</text><rect x="104.12" y="796.36" width="14.2" height="6.4" rx="1.9" fill="#fff" stroke="#737373" stroke-width="0.65"/><text x="111.22" y="801.51" font-size="5.4" fill="#7a7a7a" textLength="11" lengthAdjust="spacingAndGlyphs" text-anchor="middle">P168</text><rect x="104.12" y="816.62" width="14.2" height="6.4" rx="1.9" fill="#fff" stroke="#737373" stroke-width="0.65"/><text x="111.22" y="821.77" font-size="5.4" fill="#7a7a7a" textLength="11" lengthAdjust="spacingAndGlyphs" text-anchor="middle">P180</text><rect x="104.12" y="857.14" width="14.2" height="6.4" rx="1.9" fill="#fff" stroke="#737373" stroke-width="0.65"/><text x="111.22" y="862.29" font-size="5.4" fill="#7a7a7a" textLength="11" lengthAdjust="spacingAndGlyphs" text-anchor="middle">P145</text><rect x="104.12" y="877.40" width="14.2" height="6.4" rx="1.9" fill="#fff" stroke="#737373" stroke-width="0.65"/><text x="111.22" y="882.55" font-size="5.4" fill="#7a7a7a" textLength="11" lengthAdjust="spacingAndGlyphs" text-anchor="middle">P143</text><rect x="123.48" y="654.54" width="14.2" height="6.4" rx="1.9" fill="#fff" stroke="#737373" stroke-width="0.65"/><text x="130.58" y="659.69" font-size="5.4" fill="#7a7a7a" textLength="11" lengthAdjust="spacingAndGlyphs" text-anchor="middle">P224</text><rect x="123.48" y="715.32" width="14.2" height="6.4" rx="1.9" fill="#fff" stroke="#737373" stroke-width="0.65"/><text x="130.58" y="720.47" font-size="5.4" fill="#7a7a7a" textLength="11" lengthAdjust="spacingAndGlyphs" text-anchor="middle">P234</text><rect x="123.48" y="755.84" width="14.2" height="6.4" rx="1.9" fill="#fff" stroke="#737373" stroke-width="0.65"/><text x="130.58" y="760.99" font-size="5.4" fill="#7a7a7a" textLength="11" lengthAdjust="spacingAndGlyphs" text-anchor="middle">P170</text><rect x="123.48" y="776.10" width="14.2" height="6.4" rx="1.9" fill="#fff" stroke="#737373" stroke-width="0.65"/><text x="130.58" y="781.25" font-size="5.4" fill="#7a7a7a" textLength="11" lengthAdjust="spacingAndGlyphs" text-anchor="middle">P209</text><rect x="123.48" y="796.36" width="14.2" height="6.4" rx="1.9" fill="#fff" stroke="#737373" stroke-width="0.65"/><text x="130.58" y="801.51" font-size="5.4" fill="#7a7a7a" textLength="11" lengthAdjust="spacingAndGlyphs" text-anchor="middle">P158</text><rect x="123.48" y="857.14" width="14.2" height="6.4" rx="1.9" fill="#fff" stroke="#737373" stroke-width="0.65"/><text x="130.58" y="862.29" font-size="5.4" fill="#7a7a7a" textLength="11" lengthAdjust="spacingAndGlyphs" text-anchor="middle">P160</text><rect x="123.48" y="877.40" width="14.2" height="6.4" rx="1.9" fill="#fff" stroke="#737373" stroke-width="0.65"/><text x="130.58" y="882.55" font-size="5.4" fill="#7a7a7a" textLength="11" lengthAdjust="spacingAndGlyphs" text-anchor="middle">P144</text><rect x="142.84" y="634.28" width="14.2" height="6.4" rx="1.9" fill="#fff" stroke="#737373" stroke-width="0.65"/><text x="149.94" y="639.43" font-size="5.4" fill="#7a7a7a" textLength="11" lengthAdjust="spacingAndGlyphs" text-anchor="middle">P261</text><rect x="142.84" y="715.32" width="14.2" height="6.4" rx="1.9" fill="#fff" stroke="#737373" stroke-width="0.65"/><text x="149.94" y="720.47" font-size="5.4" fill="#7a7a7a" textLength="11" lengthAdjust="spacingAndGlyphs" text-anchor="middle">P238</text><rect x="142.84" y="735.58" width="14.2" height="6.4" rx="1.9" fill="#fff" stroke="#737373" stroke-width="0.65"/><text x="149.94" y="740.73" font-size="5.4" fill="#7a7a7a" textLength="11" lengthAdjust="spacingAndGlyphs" text-anchor="middle">P225</text><rect x="142.84" y="796.36" width="14.2" height="6.4" rx="1.9" fill="#fff" stroke="#737373" stroke-width="0.65"/><text x="149.94" y="801.51" font-size="5.4" fill="#7a7a7a" textLength="11" lengthAdjust="spacingAndGlyphs" text-anchor="middle">P157</text><rect x="142.84" y="857.14" width="14.2" height="6.4" rx="1.9" fill="#fff" stroke="#737373" stroke-width="0.65"/><text x="149.94" y="862.29" font-size="5.4" fill="#7a7a7a" textLength="11" lengthAdjust="spacingAndGlyphs" text-anchor="middle">P169</text><rect x="142.84" y="877.40" width="14.2" height="6.4" rx="1.9" fill="#fff" stroke="#737373" stroke-width="0.65"/><text x="149.94" y="882.55" font-size="5.4" fill="#7a7a7a" textLength="11" lengthAdjust="spacingAndGlyphs" text-anchor="middle">P145</text><rect x="162.20" y="715.32" width="14.2" height="6.4" rx="1.9" fill="#fff" stroke="#737373" stroke-width="0.65"/><text x="169.30" y="720.47" font-size="5.4" fill="#7a7a7a" textLength="11" lengthAdjust="spacingAndGlyphs" text-anchor="middle">P239</text><rect x="162.20" y="735.58" width="14.2" height="6.4" rx="1.9" fill="#fff" stroke="#737373" stroke-width="0.65"/><text x="169.30" y="740.73" font-size="5.4" fill="#7a7a7a" textLength="11" lengthAdjust="spacingAndGlyphs" text-anchor="middle">P203</text><rect x="162.20" y="755.84" width="14.2" height="6.4" rx="1.9" fill="#fff" stroke="#737373" stroke-width="0.65"/><text x="169.30" y="760.99" font-size="5.4" fill="#7a7a7a" textLength="11" lengthAdjust="spacingAndGlyphs" text-anchor="middle">P222</text><rect x="162.20" y="776.10" width="14.2" height="6.4" rx="1.9" fill="#fff" stroke="#737373" stroke-width="0.65"/><text x="169.30" y="781.25" font-size="5.4" fill="#7a7a7a" textLength="11" lengthAdjust="spacingAndGlyphs" text-anchor="middle">P210</text><rect x="162.20" y="796.36" width="14.2" height="6.4" rx="1.9" fill="#fff" stroke="#737373" stroke-width="0.65"/><text x="169.30" y="801.51" font-size="5.4" fill="#7a7a7a" textLength="11" lengthAdjust="spacingAndGlyphs" text-anchor="middle">P198</text><rect x="162.20" y="857.14" width="14.2" height="6.4" rx="1.9" fill="#fff" stroke="#737373" stroke-width="0.65"/><text x="169.30" y="862.29" font-size="5.4" fill="#7a7a7a" textLength="11" lengthAdjust="spacingAndGlyphs" text-anchor="middle">P151</text><rect x="162.20" y="877.40" width="14.2" height="6.4" rx="1.9" fill="#fff" stroke="#737373" stroke-width="0.65"/><text x="169.30" y="882.55" font-size="5.4" fill="#7a7a7a" textLength="11" lengthAdjust="spacingAndGlyphs" text-anchor="middle">P146</text><rect x="181.56" y="634.28" width="14.2" height="6.4" rx="1.9" fill="#fff" stroke="#737373" stroke-width="0.65"/><text x="188.66" y="639.43" font-size="5.4" fill="#7a7a7a" textLength="11" lengthAdjust="spacingAndGlyphs" text-anchor="middle">P148</text><rect x="181.56" y="674.80" width="14.2" height="6.4" rx="1.9" fill="#fff" stroke="#737373" stroke-width="0.65"/><text x="188.66" y="679.95" font-size="5.4" fill="#7a7a7a" textLength="11" lengthAdjust="spacingAndGlyphs" text-anchor="middle">P249</text><rect x="181.56" y="735.58" width="14.2" height="6.4" rx="1.9" fill="#fff" stroke="#737373" stroke-width="0.65"/><text x="188.66" y="740.73" font-size="5.4" fill="#7a7a7a" textLength="11" lengthAdjust="spacingAndGlyphs" text-anchor="middle">P216</text><rect x="181.56" y="776.10" width="14.2" height="6.4" rx="1.9" fill="#fff" stroke="#737373" stroke-width="0.65"/><text x="188.66" y="781.25" font-size="5.4" fill="#7a7a7a" textLength="11" lengthAdjust="spacingAndGlyphs" text-anchor="middle">P211</text><rect x="181.56" y="877.40" width="14.2" height="6.4" rx="1.9" fill="#fff" stroke="#737373" stroke-width="0.65"/><text x="188.66" y="882.55" font-size="5.4" fill="#7a7a7a" textLength="11" lengthAdjust="spacingAndGlyphs" text-anchor="middle">P147</text><rect x="200.92" y="654.54" width="14.2" height="6.4" rx="1.9" fill="#fff" stroke="#737373" stroke-width="0.65"/><text x="208.02" y="659.69" font-size="5.4" fill="#7a7a7a" textLength="11" lengthAdjust="spacingAndGlyphs" text-anchor="middle">P259</text><rect x="200.92" y="674.80" width="14.2" height="6.4" rx="1.9" fill="#fff" stroke="#737373" stroke-width="0.65"/><text x="208.02" y="679.95" font-size="5.4" fill="#7a7a7a" textLength="11" lengthAdjust="spacingAndGlyphs" text-anchor="middle">P250</text><rect x="200.92" y="735.58" width="14.2" height="6.4" rx="1.9" fill="#fff" stroke="#737373" stroke-width="0.65"/><text x="208.02" y="740.73" font-size="5.4" fill="#7a7a7a" textLength="11" lengthAdjust="spacingAndGlyphs" text-anchor="middle">P190</text><rect x="200.92" y="755.84" width="14.2" height="6.4" rx="1.9" fill="#fff" stroke="#737373" stroke-width="0.65"/><text x="208.02" y="760.99" font-size="5.4" fill="#7a7a7a" textLength="11" lengthAdjust="spacingAndGlyphs" text-anchor="middle">P218</text><rect x="200.92" y="796.36" width="14.2" height="6.4" rx="1.9" fill="#fff" stroke="#737373" stroke-width="0.65"/><text x="208.02" y="801.51" font-size="5.4" fill="#7a7a7a" textLength="11" lengthAdjust="spacingAndGlyphs" text-anchor="middle">P189</text><rect x="200.92" y="836.88" width="14.2" height="6.4" rx="1.9" fill="#fff" stroke="#737373" stroke-width="0.65"/><text x="208.02" y="842.03" font-size="5.4" fill="#7a7a7a" textLength="11" lengthAdjust="spacingAndGlyphs" text-anchor="middle">P178</text><rect x="200.92" y="877.40" width="14.2" height="6.4" rx="1.9" fill="#fff" stroke="#737373" stroke-width="0.65"/><text x="208.02" y="882.55" font-size="5.4" fill="#7a7a7a" textLength="11" lengthAdjust="spacingAndGlyphs" text-anchor="middle">P148</text><rect x="220.28" y="634.28" width="14.2" height="6.4" rx="1.9" fill="#fff" stroke="#737373" stroke-width="0.65"/><text x="227.38" y="639.43" font-size="5.4" fill="#7a7a7a" textLength="11" lengthAdjust="spacingAndGlyphs" text-anchor="middle">P267</text><rect x="220.28" y="715.32" width="14.2" height="6.4" rx="1.9" fill="#fff" stroke="#737373" stroke-width="0.65"/><text x="227.38" y="720.47" font-size="5.4" fill="#7a7a7a" textLength="11" lengthAdjust="spacingAndGlyphs" text-anchor="middle">P229</text><rect x="220.28" y="735.58" width="14.2" height="6.4" rx="1.9" fill="#fff" stroke="#737373" stroke-width="0.65"/><text x="227.38" y="740.73" font-size="5.4" fill="#7a7a7a" textLength="11" lengthAdjust="spacingAndGlyphs" text-anchor="middle">P177</text><rect x="220.28" y="796.36" width="14.2" height="6.4" rx="1.9" fill="#fff" stroke="#737373" stroke-width="0.65"/><text x="227.38" y="801.51" font-size="5.4" fill="#7a7a7a" textLength="11" lengthAdjust="spacingAndGlyphs" text-anchor="middle">P188</text><rect x="220.28" y="857.14" width="14.2" height="6.4" rx="1.9" fill="#fff" stroke="#737373" stroke-width="0.65"/><text x="227.38" y="862.29" font-size="5.4" fill="#7a7a7a" textLength="11" lengthAdjust="spacingAndGlyphs" text-anchor="middle">P170</text><rect x="239.64" y="634.28" width="14.2" height="6.4" rx="1.9" fill="#fff" stroke="#737373" stroke-width="0.65"/><text x="246.74" y="639.43" font-size="5.4" fill="#7a7a7a" textLength="11" lengthAdjust="spacingAndGlyphs" text-anchor="middle">P268</text><rect x="239.64" y="654.54" width="14.2" height="6.4" rx="1.9" fill="#fff" stroke="#737373" stroke-width="0.65"/><text x="246.74" y="659.69" font-size="5.4" fill="#7a7a7a" textLength="11" lengthAdjust="spacingAndGlyphs" text-anchor="middle">P262</text><rect x="239.64" y="715.32" width="14.2" height="6.4" rx="1.9" fill="#fff" stroke="#737373" stroke-width="0.65"/><text x="246.74" y="720.47" font-size="5.4" fill="#7a7a7a" textLength="11" lengthAdjust="spacingAndGlyphs" text-anchor="middle">P235</text><rect x="239.64" y="735.58" width="14.2" height="6.4" rx="1.9" fill="#fff" stroke="#737373" stroke-width="0.65"/><text x="246.74" y="740.73" font-size="5.4" fill="#7a7a7a" textLength="11" lengthAdjust="spacingAndGlyphs" text-anchor="middle">P226</text><rect x="239.64" y="796.36" width="14.2" height="6.4" rx="1.9" fill="#fff" stroke="#737373" stroke-width="0.65"/><text x="246.74" y="801.51" font-size="5.4" fill="#7a7a7a" textLength="11" lengthAdjust="spacingAndGlyphs" text-anchor="middle">P182</text><rect x="239.64" y="816.62" width="14.2" height="6.4" rx="1.9" fill="#fff" stroke="#737373" stroke-width="0.65"/><text x="246.74" y="821.77" font-size="5.4" fill="#7a7a7a" textLength="11" lengthAdjust="spacingAndGlyphs" text-anchor="middle">P191</text><rect x="239.64" y="836.88" width="14.2" height="6.4" rx="1.9" fill="#fff" stroke="#737373" stroke-width="0.65"/><text x="246.74" y="842.03" font-size="5.4" fill="#7a7a7a" textLength="11" lengthAdjust="spacingAndGlyphs" text-anchor="middle">P179</text><rect x="239.64" y="877.40" width="14.2" height="6.4" rx="1.9" fill="#fff" stroke="#737373" stroke-width="0.65"/><text x="246.74" y="882.55" font-size="5.4" fill="#7a7a7a" textLength="11" lengthAdjust="spacingAndGlyphs" text-anchor="middle">P149</text><rect x="259.00" y="634.28" width="14.2" height="6.4" rx="1.9" fill="#fff" stroke="#737373" stroke-width="0.65"/><text x="266.10" y="639.43" font-size="5.4" fill="#7a7a7a" textLength="11" lengthAdjust="spacingAndGlyphs" text-anchor="middle">P257</text><rect x="259.00" y="674.80" width="14.2" height="6.4" rx="1.9" fill="#fff" stroke="#737373" stroke-width="0.65"/><text x="266.10" y="679.95" font-size="5.4" fill="#7a7a7a" textLength="11" lengthAdjust="spacingAndGlyphs" text-anchor="middle">P251</text><rect x="259.00" y="715.32" width="14.2" height="6.4" rx="1.9" fill="#fff" stroke="#737373" stroke-width="0.65"/><text x="266.10" y="720.47" font-size="5.4" fill="#7a7a7a" textLength="11" lengthAdjust="spacingAndGlyphs" text-anchor="middle">P240</text><rect x="259.00" y="735.58" width="14.2" height="6.4" rx="1.9" fill="#fff" stroke="#737373" stroke-width="0.65"/><text x="266.10" y="740.73" font-size="5.4" fill="#7a7a7a" textLength="11" lengthAdjust="spacingAndGlyphs" text-anchor="middle">P227</text><rect x="259.00" y="796.36" width="14.2" height="6.4" rx="1.9" fill="#fff" stroke="#737373" stroke-width="0.65"/><text x="266.10" y="801.51" font-size="5.4" fill="#7a7a7a" textLength="11" lengthAdjust="spacingAndGlyphs" text-anchor="middle">P177</text><rect x="259.00" y="816.62" width="14.2" height="6.4" rx="1.9" fill="#fff" stroke="#737373" stroke-width="0.65"/><text x="266.10" y="821.77" font-size="5.4" fill="#7a7a7a" textLength="11" lengthAdjust="spacingAndGlyphs" text-anchor="middle">P192</text><rect x="259.00" y="877.40" width="14.2" height="6.4" rx="1.9" fill="#fff" stroke="#737373" stroke-width="0.65"/><text x="266.10" y="882.55" font-size="5.4" fill="#7a7a7a" textLength="11" lengthAdjust="spacingAndGlyphs" text-anchor="middle">P150</text><rect x="278.36" y="654.54" width="14.2" height="6.4" rx="1.9" fill="#fff" stroke="#737373" stroke-width="0.65"/><text x="285.46" y="659.69" font-size="5.4" fill="#7a7a7a" textLength="11" lengthAdjust="spacingAndGlyphs" text-anchor="middle">P261</text><rect x="278.36" y="674.80" width="14.2" height="6.4" rx="1.9" fill="#fff" stroke="#737373" stroke-width="0.65"/><text x="285.46" y="679.95" font-size="5.4" fill="#7a7a7a" textLength="11" lengthAdjust="spacingAndGlyphs" text-anchor="middle">P252</text><rect x="278.36" y="715.32" width="14.2" height="6.4" rx="1.9" fill="#fff" stroke="#737373" stroke-width="0.65"/><text x="285.46" y="720.47" font-size="5.4" fill="#7a7a7a" textLength="11" lengthAdjust="spacingAndGlyphs" text-anchor="middle">P241</text><rect x="278.36" y="755.84" width="14.2" height="6.4" rx="1.9" fill="#fff" stroke="#737373" stroke-width="0.65"/><text x="285.46" y="760.99" font-size="5.4" fill="#7a7a7a" textLength="11" lengthAdjust="spacingAndGlyphs" text-anchor="middle">P208</text><rect x="278.36" y="796.36" width="14.2" height="6.4" rx="1.9" fill="#fff" stroke="#737373" stroke-width="0.65"/><text x="285.46" y="801.51" font-size="5.4" fill="#7a7a7a" textLength="11" lengthAdjust="spacingAndGlyphs" text-anchor="middle">P196</text><rect x="278.36" y="836.88" width="14.2" height="6.4" rx="1.9" fill="#fff" stroke="#737373" stroke-width="0.65"/><text x="285.46" y="842.03" font-size="5.4" fill="#7a7a7a" textLength="11" lengthAdjust="spacingAndGlyphs" text-anchor="middle">P180</text><rect x="297.72" y="674.80" width="14.2" height="6.4" rx="1.9" fill="#fff" stroke="#737373" stroke-width="0.65"/><text x="304.82" y="679.95" font-size="5.4" fill="#7a7a7a" textLength="11" lengthAdjust="spacingAndGlyphs" text-anchor="middle">P253</text><rect x="297.72" y="695.06" width="14.2" height="6.4" rx="1.9" fill="#fff" stroke="#737373" stroke-width="0.65"/><text x="304.82" y="700.21" font-size="5.4" fill="#7a7a7a" textLength="11" lengthAdjust="spacingAndGlyphs" text-anchor="middle">P243</text><rect x="297.72" y="715.32" width="14.2" height="6.4" rx="1.9" fill="#fff" stroke="#737373" stroke-width="0.65"/><text x="304.82" y="720.47" font-size="5.4" fill="#7a7a7a" textLength="11" lengthAdjust="spacingAndGlyphs" text-anchor="middle">P177</text><rect x="297.72" y="735.58" width="14.2" height="6.4" rx="1.9" fill="#fff" stroke="#737373" stroke-width="0.65"/><text x="304.82" y="740.73" font-size="5.4" fill="#7a7a7a" textLength="11" lengthAdjust="spacingAndGlyphs" text-anchor="middle">P228</text><rect x="297.72" y="755.84" width="14.2" height="6.4" rx="1.9" fill="#fff" stroke="#737373" stroke-width="0.65"/><text x="304.82" y="760.99" font-size="5.4" fill="#7a7a7a" textLength="11" lengthAdjust="spacingAndGlyphs" text-anchor="middle">P212</text><rect x="297.72" y="796.36" width="14.2" height="6.4" rx="1.9" fill="#fff" stroke="#737373" stroke-width="0.65"/><text x="304.82" y="801.51" font-size="5.4" fill="#7a7a7a" textLength="11" lengthAdjust="spacingAndGlyphs" text-anchor="middle">P201</text><rect x="297.72" y="816.62" width="14.2" height="6.4" rx="1.9" fill="#fff" stroke="#737373" stroke-width="0.65"/><text x="304.82" y="821.77" font-size="5.4" fill="#7a7a7a" textLength="11" lengthAdjust="spacingAndGlyphs" text-anchor="middle">P193</text><rect x="297.72" y="836.88" width="14.2" height="6.4" rx="1.9" fill="#fff" stroke="#737373" stroke-width="0.65"/><text x="304.82" y="842.03" font-size="5.4" fill="#7a7a7a" textLength="11" lengthAdjust="spacingAndGlyphs" text-anchor="middle">P142</text><rect x="297.72" y="877.40" width="14.2" height="6.4" rx="1.9" fill="#fff" stroke="#737373" stroke-width="0.65"/><text x="304.82" y="882.55" font-size="5.4" fill="#7a7a7a" textLength="11" lengthAdjust="spacingAndGlyphs" text-anchor="middle">P151</text><rect x="317.08" y="634.28" width="14.2" height="6.4" rx="1.9" fill="#fff" stroke="#737373" stroke-width="0.65"/><text x="324.18" y="639.43" font-size="5.4" fill="#7a7a7a" textLength="11" lengthAdjust="spacingAndGlyphs" text-anchor="middle">P260</text><rect x="317.08" y="674.80" width="14.2" height="6.4" rx="1.9" fill="#fff" stroke="#737373" stroke-width="0.65"/><text x="324.18" y="679.95" font-size="5.4" fill="#7a7a7a" textLength="11" lengthAdjust="spacingAndGlyphs" text-anchor="middle">P254</text><rect x="317.08" y="695.06" width="14.2" height="6.4" rx="1.9" fill="#fff" stroke="#737373" stroke-width="0.65"/><text x="324.18" y="700.21" font-size="5.4" fill="#7a7a7a" textLength="11" lengthAdjust="spacingAndGlyphs" text-anchor="middle">P246</text><rect x="317.08" y="776.10" width="14.2" height="6.4" rx="1.9" fill="#fff" stroke="#737373" stroke-width="0.65"/><text x="324.18" y="781.25" font-size="5.4" fill="#7a7a7a" textLength="11" lengthAdjust="spacingAndGlyphs" text-anchor="middle">P212</text><rect x="317.08" y="796.36" width="14.2" height="6.4" rx="1.9" fill="#fff" stroke="#737373" stroke-width="0.65"/><text x="324.18" y="801.51" font-size="5.4" fill="#7a7a7a" textLength="11" lengthAdjust="spacingAndGlyphs" text-anchor="middle">P202</text><rect x="317.08" y="816.62" width="14.2" height="6.4" rx="1.9" fill="#fff" stroke="#737373" stroke-width="0.65"/><text x="324.18" y="821.77" font-size="5.4" fill="#7a7a7a" textLength="11" lengthAdjust="spacingAndGlyphs" text-anchor="middle">P194</text><rect x="317.08" y="836.88" width="14.2" height="6.4" rx="1.9" fill="#fff" stroke="#737373" stroke-width="0.65"/><text x="324.18" y="842.03" font-size="5.4" fill="#7a7a7a" textLength="11" lengthAdjust="spacingAndGlyphs" text-anchor="middle">P181</text><rect x="317.08" y="857.14" width="14.2" height="6.4" rx="1.9" fill="#fff" stroke="#737373" stroke-width="0.65"/><text x="324.18" y="862.29" font-size="5.4" fill="#7a7a7a" textLength="11" lengthAdjust="spacingAndGlyphs" text-anchor="middle">P171</text><rect x="317.08" y="877.40" width="14.2" height="6.4" rx="1.9" fill="#fff" stroke="#737373" stroke-width="0.65"/><text x="324.18" y="882.55" font-size="5.4" fill="#7a7a7a" textLength="11" lengthAdjust="spacingAndGlyphs" text-anchor="middle">P152</text><rect x="336.44" y="634.28" width="14.2" height="6.4" rx="1.9" fill="#fff" stroke="#737373" stroke-width="0.65"/><text x="343.54" y="639.43" font-size="5.4" fill="#7a7a7a" textLength="11" lengthAdjust="spacingAndGlyphs" text-anchor="middle">P270</text><rect x="336.44" y="654.54" width="14.2" height="6.4" rx="1.9" fill="#fff" stroke="#737373" stroke-width="0.65"/><text x="343.54" y="659.69" font-size="5.4" fill="#7a7a7a" textLength="11" lengthAdjust="spacingAndGlyphs" text-anchor="middle">P262</text><rect x="336.44" y="674.80" width="14.2" height="6.4" rx="1.9" fill="#fff" stroke="#737373" stroke-width="0.65"/><text x="343.54" y="679.95" font-size="5.4" fill="#7a7a7a" textLength="11" lengthAdjust="spacingAndGlyphs" text-anchor="middle">P255</text><rect x="336.44" y="735.58" width="14.2" height="6.4" rx="1.9" fill="#fff" stroke="#737373" stroke-width="0.65"/><text x="343.54" y="740.73" font-size="5.4" fill="#7a7a7a" textLength="11" lengthAdjust="spacingAndGlyphs" text-anchor="middle">P229</text><rect x="336.44" y="796.36" width="14.2" height="6.4" rx="1.9" fill="#fff" stroke="#737373" stroke-width="0.65"/><text x="343.54" y="801.51" font-size="5.4" fill="#7a7a7a" textLength="11" lengthAdjust="spacingAndGlyphs" text-anchor="middle">P203</text><rect x="336.44" y="857.14" width="14.2" height="6.4" rx="1.9" fill="#fff" stroke="#737373" stroke-width="0.65"/><text x="343.54" y="862.29" font-size="5.4" fill="#7a7a7a" textLength="11" lengthAdjust="spacingAndGlyphs" text-anchor="middle">P172</text><rect x="336.44" y="877.40" width="14.2" height="6.4" rx="1.9" fill="#fff" stroke="#737373" stroke-width="0.65"/><text x="343.54" y="882.55" font-size="5.4" fill="#7a7a7a" textLength="11" lengthAdjust="spacingAndGlyphs" text-anchor="middle">P153</text><rect x="355.80" y="634.28" width="14.2" height="6.4" rx="1.9" fill="#fff" stroke="#737373" stroke-width="0.65"/><text x="362.90" y="639.43" font-size="5.4" fill="#7a7a7a" textLength="11" lengthAdjust="spacingAndGlyphs" text-anchor="middle">P250</text><rect x="355.80" y="654.54" width="14.2" height="6.4" rx="1.9" fill="#fff" stroke="#737373" stroke-width="0.65"/><text x="362.90" y="659.69" font-size="5.4" fill="#7a7a7a" textLength="11" lengthAdjust="spacingAndGlyphs" text-anchor="middle">P263</text><rect x="355.80" y="695.06" width="14.2" height="6.4" rx="1.9" fill="#fff" stroke="#737373" stroke-width="0.65"/><text x="362.90" y="700.21" font-size="5.4" fill="#7a7a7a" textLength="11" lengthAdjust="spacingAndGlyphs" text-anchor="middle">P177</text><rect x="355.80" y="755.84" width="14.2" height="6.4" rx="1.9" fill="#fff" stroke="#737373" stroke-width="0.65"/><text x="362.90" y="760.99" font-size="5.4" fill="#7a7a7a" textLength="11" lengthAdjust="spacingAndGlyphs" text-anchor="middle">P222</text><rect x="355.80" y="836.88" width="14.2" height="6.4" rx="1.9" fill="#fff" stroke="#737373" stroke-width="0.65"/><text x="362.90" y="842.03" font-size="5.4" fill="#7a7a7a" textLength="11" lengthAdjust="spacingAndGlyphs" text-anchor="middle">P182</text><rect x="355.80" y="877.40" width="14.2" height="6.4" rx="1.9" fill="#fff" stroke="#737373" stroke-width="0.65"/><text x="362.90" y="882.55" font-size="5.4" fill="#7a7a7a" textLength="11" lengthAdjust="spacingAndGlyphs" text-anchor="middle">P154</text><rect x="375.16" y="695.06" width="14.2" height="6.4" rx="1.9" fill="#fff" stroke="#737373" stroke-width="0.65"/><text x="382.26" y="700.21" font-size="5.4" fill="#7a7a7a" textLength="11" lengthAdjust="spacingAndGlyphs" text-anchor="middle">P247</text><rect x="375.16" y="735.58" width="14.2" height="6.4" rx="1.9" fill="#fff" stroke="#737373" stroke-width="0.65"/><text x="382.26" y="740.73" font-size="5.4" fill="#7a7a7a" textLength="11" lengthAdjust="spacingAndGlyphs" text-anchor="middle">P230</text><rect x="375.16" y="776.10" width="14.2" height="6.4" rx="1.9" fill="#fff" stroke="#737373" stroke-width="0.65"/><text x="382.26" y="781.25" font-size="5.4" fill="#7a7a7a" textLength="11" lengthAdjust="spacingAndGlyphs" text-anchor="middle">P211</text><rect x="375.16" y="796.36" width="14.2" height="6.4" rx="1.9" fill="#fff" stroke="#737373" stroke-width="0.65"/><text x="382.26" y="801.51" font-size="5.4" fill="#7a7a7a" textLength="11" lengthAdjust="spacingAndGlyphs" text-anchor="middle">P204</text><rect x="375.16" y="816.62" width="14.2" height="6.4" rx="1.9" fill="#fff" stroke="#737373" stroke-width="0.65"/><text x="382.26" y="821.77" font-size="5.4" fill="#7a7a7a" textLength="11" lengthAdjust="spacingAndGlyphs" text-anchor="middle">P185</text><rect x="375.16" y="836.88" width="14.2" height="6.4" rx="1.9" fill="#fff" stroke="#737373" stroke-width="0.65"/><text x="382.26" y="842.03" font-size="5.4" fill="#7a7a7a" textLength="11" lengthAdjust="spacingAndGlyphs" text-anchor="middle">P183</text><rect x="375.16" y="857.14" width="14.2" height="6.4" rx="1.9" fill="#fff" stroke="#737373" stroke-width="0.65"/><text x="382.26" y="862.29" font-size="5.4" fill="#7a7a7a" textLength="11" lengthAdjust="spacingAndGlyphs" text-anchor="middle">P173</text><rect x="375.16" y="877.40" width="14.2" height="6.4" rx="1.9" fill="#fff" stroke="#737373" stroke-width="0.65"/><text x="382.26" y="882.55" font-size="5.4" fill="#7a7a7a" textLength="11" lengthAdjust="spacingAndGlyphs" text-anchor="middle">P155</text><rect x="394.52" y="634.28" width="14.2" height="6.4" rx="1.9" fill="#fff" stroke="#737373" stroke-width="0.65"/><text x="401.62" y="639.43" font-size="5.4" fill="#7a7a7a" textLength="11" lengthAdjust="spacingAndGlyphs" text-anchor="middle">P271</text><rect x="394.52" y="654.54" width="14.2" height="6.4" rx="1.9" fill="#fff" stroke="#737373" stroke-width="0.65"/><text x="401.62" y="659.69" font-size="5.4" fill="#7a7a7a" textLength="11" lengthAdjust="spacingAndGlyphs" text-anchor="middle">P264</text><rect x="394.52" y="674.80" width="14.2" height="6.4" rx="1.9" fill="#fff" stroke="#737373" stroke-width="0.65"/><text x="401.62" y="679.95" font-size="5.4" fill="#7a7a7a" textLength="11" lengthAdjust="spacingAndGlyphs" text-anchor="middle">P256</text><rect x="394.52" y="695.06" width="14.2" height="6.4" rx="1.9" fill="#fff" stroke="#737373" stroke-width="0.65"/><text x="401.62" y="700.21" font-size="5.4" fill="#7a7a7a" textLength="11" lengthAdjust="spacingAndGlyphs" text-anchor="middle">P234</text><rect x="394.52" y="735.58" width="14.2" height="6.4" rx="1.9" fill="#fff" stroke="#737373" stroke-width="0.65"/><text x="401.62" y="740.73" font-size="5.4" fill="#7a7a7a" textLength="11" lengthAdjust="spacingAndGlyphs" text-anchor="middle">P231</text><rect x="394.52" y="796.36" width="14.2" height="6.4" rx="1.9" fill="#fff" stroke="#737373" stroke-width="0.65"/><text x="401.62" y="801.51" font-size="5.4" fill="#7a7a7a" textLength="11" lengthAdjust="spacingAndGlyphs" text-anchor="middle">P190</text><rect x="394.52" y="836.88" width="14.2" height="6.4" rx="1.9" fill="#fff" stroke="#737373" stroke-width="0.65"/><text x="401.62" y="842.03" font-size="5.4" fill="#7a7a7a" textLength="11" lengthAdjust="spacingAndGlyphs" text-anchor="middle">P184</text><rect x="394.52" y="857.14" width="14.2" height="6.4" rx="1.9" fill="#fff" stroke="#737373" stroke-width="0.65"/><text x="401.62" y="862.29" font-size="5.4" fill="#7a7a7a" textLength="11" lengthAdjust="spacingAndGlyphs" text-anchor="middle">P174</text><rect x="394.52" y="877.40" width="14.2" height="6.4" rx="1.9" fill="#fff" stroke="#737373" stroke-width="0.65"/><text x="401.62" y="882.55" font-size="5.4" fill="#7a7a7a" textLength="11" lengthAdjust="spacingAndGlyphs" text-anchor="middle">P156</text><rect x="413.88" y="877.40" width="14.2" height="6.4" rx="1.9" fill="#fff" stroke="#737373" stroke-width="0.65"/><text x="420.98" y="882.55" font-size="5.4" fill="#7a7a7a" textLength="11" lengthAdjust="spacingAndGlyphs" text-anchor="middle">P157</text><rect x="433.24" y="695.06" width="14.2" height="6.4" rx="1.9" fill="#fff" stroke="#737373" stroke-width="0.65"/><text x="440.34" y="700.21" font-size="5.4" fill="#7a7a7a" textLength="11" lengthAdjust="spacingAndGlyphs" text-anchor="middle">P263</text><rect x="433.24" y="715.32" width="14.2" height="6.4" rx="1.9" fill="#fff" stroke="#737373" stroke-width="0.65"/><text x="440.34" y="720.47" font-size="5.4" fill="#7a7a7a" textLength="11" lengthAdjust="spacingAndGlyphs" text-anchor="middle">P242</text><rect x="433.24" y="796.36" width="14.2" height="6.4" rx="1.9" fill="#fff" stroke="#737373" stroke-width="0.65"/><text x="440.34" y="801.51" font-size="5.4" fill="#7a7a7a" textLength="11" lengthAdjust="spacingAndGlyphs" text-anchor="middle">P205</text><rect x="433.24" y="816.62" width="14.2" height="6.4" rx="1.9" fill="#fff" stroke="#737373" stroke-width="0.65"/><text x="440.34" y="821.77" font-size="5.4" fill="#7a7a7a" textLength="11" lengthAdjust="spacingAndGlyphs" text-anchor="middle">P158</text><rect x="433.24" y="836.88" width="14.2" height="6.4" rx="1.9" fill="#fff" stroke="#737373" stroke-width="0.65"/><text x="440.34" y="842.03" font-size="5.4" fill="#7a7a7a" textLength="11" lengthAdjust="spacingAndGlyphs" text-anchor="middle">P185</text><rect x="433.24" y="877.40" width="14.2" height="6.4" rx="1.9" fill="#fff" stroke="#737373" stroke-width="0.65"/><text x="440.34" y="882.55" font-size="5.4" fill="#7a7a7a" textLength="11" lengthAdjust="spacingAndGlyphs" text-anchor="middle">P158</text><rect x="452.60" y="654.54" width="14.2" height="6.4" rx="1.9" fill="#fff" stroke="#737373" stroke-width="0.65"/><text x="459.70" y="659.69" font-size="5.4" fill="#7a7a7a" textLength="11" lengthAdjust="spacingAndGlyphs" text-anchor="middle">P265</text><rect x="452.60" y="674.80" width="14.2" height="6.4" rx="1.9" fill="#fff" stroke="#737373" stroke-width="0.65"/><text x="459.70" y="679.95" font-size="5.4" fill="#7a7a7a" textLength="11" lengthAdjust="spacingAndGlyphs" text-anchor="middle">P257</text><rect x="452.60" y="715.32" width="14.2" height="6.4" rx="1.9" fill="#fff" stroke="#737373" stroke-width="0.65"/><text x="459.70" y="720.47" font-size="5.4" fill="#7a7a7a" textLength="11" lengthAdjust="spacingAndGlyphs" text-anchor="middle">P225</text><rect x="452.60" y="755.84" width="14.2" height="6.4" rx="1.9" fill="#fff" stroke="#737373" stroke-width="0.65"/><text x="459.70" y="760.99" font-size="5.4" fill="#7a7a7a" textLength="11" lengthAdjust="spacingAndGlyphs" text-anchor="middle">P221</text><rect x="452.60" y="776.10" width="14.2" height="6.4" rx="1.9" fill="#fff" stroke="#737373" stroke-width="0.65"/><text x="459.70" y="781.25" font-size="5.4" fill="#7a7a7a" textLength="11" lengthAdjust="spacingAndGlyphs" text-anchor="middle">P214</text><rect x="452.60" y="816.62" width="14.2" height="6.4" rx="1.9" fill="#fff" stroke="#737373" stroke-width="0.65"/><text x="459.70" y="821.77" font-size="5.4" fill="#7a7a7a" textLength="11" lengthAdjust="spacingAndGlyphs" text-anchor="middle">P149</text><rect x="452.60" y="877.40" width="14.2" height="6.4" rx="1.9" fill="#fff" stroke="#737373" stroke-width="0.65"/><text x="459.70" y="882.55" font-size="5.4" fill="#7a7a7a" textLength="11" lengthAdjust="spacingAndGlyphs" text-anchor="middle">P159</text><rect x="471.96" y="715.32" width="14.2" height="6.4" rx="1.9" fill="#fff" stroke="#737373" stroke-width="0.65"/><text x="479.06" y="720.47" font-size="5.4" fill="#7a7a7a" textLength="11" lengthAdjust="spacingAndGlyphs" text-anchor="middle">P228</text><rect x="471.96" y="735.58" width="14.2" height="6.4" rx="1.9" fill="#fff" stroke="#737373" stroke-width="0.65"/><text x="479.06" y="740.73" font-size="5.4" fill="#7a7a7a" textLength="11" lengthAdjust="spacingAndGlyphs" text-anchor="middle">P231</text><rect x="471.96" y="776.10" width="14.2" height="6.4" rx="1.9" fill="#fff" stroke="#737373" stroke-width="0.65"/><text x="479.06" y="781.25" font-size="5.4" fill="#7a7a7a" textLength="11" lengthAdjust="spacingAndGlyphs" text-anchor="middle">P215</text><rect x="471.96" y="877.40" width="14.2" height="6.4" rx="1.9" fill="#fff" stroke="#737373" stroke-width="0.65"/><text x="479.06" y="882.55" font-size="5.4" fill="#7a7a7a" textLength="11" lengthAdjust="spacingAndGlyphs" text-anchor="middle">P160</text><rect x="491.32" y="715.32" width="14.2" height="6.4" rx="1.9" fill="#fff" stroke="#737373" stroke-width="0.65"/><text x="498.42" y="720.47" font-size="5.4" fill="#7a7a7a" textLength="11" lengthAdjust="spacingAndGlyphs" text-anchor="middle">P188</text><rect x="491.32" y="735.58" width="14.2" height="6.4" rx="1.9" fill="#fff" stroke="#737373" stroke-width="0.65"/><text x="498.42" y="740.73" font-size="5.4" fill="#7a7a7a" textLength="11" lengthAdjust="spacingAndGlyphs" text-anchor="middle">P232</text><rect x="491.32" y="755.84" width="14.2" height="6.4" rx="1.9" fill="#fff" stroke="#737373" stroke-width="0.65"/><text x="498.42" y="760.99" font-size="5.4" fill="#7a7a7a" textLength="11" lengthAdjust="spacingAndGlyphs" text-anchor="middle">P222</text><rect x="491.32" y="776.10" width="14.2" height="6.4" rx="1.9" fill="#fff" stroke="#737373" stroke-width="0.65"/><text x="498.42" y="781.25" font-size="5.4" fill="#7a7a7a" textLength="11" lengthAdjust="spacingAndGlyphs" text-anchor="middle">P187</text><rect x="491.32" y="816.62" width="14.2" height="6.4" rx="1.9" fill="#fff" stroke="#737373" stroke-width="0.65"/><text x="498.42" y="821.77" font-size="5.4" fill="#7a7a7a" textLength="11" lengthAdjust="spacingAndGlyphs" text-anchor="middle">P150</text><rect x="491.32" y="836.88" width="14.2" height="6.4" rx="1.9" fill="#fff" stroke="#737373" stroke-width="0.65"/><text x="498.42" y="842.03" font-size="5.4" fill="#7a7a7a" textLength="11" lengthAdjust="spacingAndGlyphs" text-anchor="middle">P186</text><rect x="491.32" y="857.14" width="14.2" height="6.4" rx="1.9" fill="#fff" stroke="#737373" stroke-width="0.65"/><text x="498.42" y="862.29" font-size="5.4" fill="#7a7a7a" textLength="11" lengthAdjust="spacingAndGlyphs" text-anchor="middle">P175</text><rect x="491.32" y="877.40" width="14.2" height="6.4" rx="1.9" fill="#fff" stroke="#737373" stroke-width="0.65"/><text x="498.42" y="882.55" font-size="5.4" fill="#7a7a7a" textLength="11" lengthAdjust="spacingAndGlyphs" text-anchor="middle">P161</text><rect x="510.68" y="735.58" width="14.2" height="6.4" rx="1.9" fill="#fff" stroke="#737373" stroke-width="0.65"/><text x="517.78" y="740.73" font-size="5.4" fill="#7a7a7a" textLength="11" lengthAdjust="spacingAndGlyphs" text-anchor="middle">P233</text><rect x="510.68" y="776.10" width="14.2" height="6.4" rx="1.9" fill="#fff" stroke="#737373" stroke-width="0.65"/><text x="517.78" y="781.25" font-size="5.4" fill="#7a7a7a" textLength="11" lengthAdjust="spacingAndGlyphs" text-anchor="middle">P216</text><rect x="510.68" y="836.88" width="14.2" height="6.4" rx="1.9" fill="#fff" stroke="#737373" stroke-width="0.65"/><text x="517.78" y="842.03" font-size="5.4" fill="#7a7a7a" textLength="11" lengthAdjust="spacingAndGlyphs" text-anchor="middle">P187</text><rect x="510.68" y="857.14" width="14.2" height="6.4" rx="1.9" fill="#fff" stroke="#737373" stroke-width="0.65"/><text x="517.78" y="862.29" font-size="5.4" fill="#7a7a7a" textLength="11" lengthAdjust="spacingAndGlyphs" text-anchor="middle">P176</text><rect x="510.68" y="877.40" width="14.2" height="6.4" rx="1.9" fill="#fff" stroke="#737373" stroke-width="0.65"/><text x="517.78" y="882.55" font-size="5.4" fill="#7a7a7a" textLength="11" lengthAdjust="spacingAndGlyphs" text-anchor="middle">P162</text><rect x="530.04" y="674.80" width="14.2" height="6.4" rx="1.9" fill="#fff" stroke="#737373" stroke-width="0.65"/><text x="537.14" y="679.95" font-size="5.4" fill="#7a7a7a" textLength="11" lengthAdjust="spacingAndGlyphs" text-anchor="middle">P177</text><rect x="530.04" y="715.32" width="14.2" height="6.4" rx="1.9" fill="#fff" stroke="#737373" stroke-width="0.65"/><text x="537.14" y="720.47" font-size="5.4" fill="#7a7a7a" textLength="11" lengthAdjust="spacingAndGlyphs" text-anchor="middle">P170</text><rect x="530.04" y="735.58" width="14.2" height="6.4" rx="1.9" fill="#fff" stroke="#737373" stroke-width="0.65"/><text x="537.14" y="740.73" font-size="5.4" fill="#7a7a7a" textLength="11" lengthAdjust="spacingAndGlyphs" text-anchor="middle">P234</text><rect x="530.04" y="816.62" width="14.2" height="6.4" rx="1.9" fill="#fff" stroke="#737373" stroke-width="0.65"/><text x="537.14" y="821.77" font-size="5.4" fill="#7a7a7a" textLength="11" lengthAdjust="spacingAndGlyphs" text-anchor="middle">P169</text><rect x="530.04" y="836.88" width="14.2" height="6.4" rx="1.9" fill="#fff" stroke="#737373" stroke-width="0.65"/><text x="537.14" y="842.03" font-size="5.4" fill="#7a7a7a" textLength="11" lengthAdjust="spacingAndGlyphs" text-anchor="middle">P188</text><rect x="530.04" y="877.40" width="14.2" height="6.4" rx="1.9" fill="#fff" stroke="#737373" stroke-width="0.65"/><text x="537.14" y="882.55" font-size="5.4" fill="#7a7a7a" textLength="11" lengthAdjust="spacingAndGlyphs" text-anchor="middle">P163</text><rect x="549.40" y="715.32" width="14.2" height="6.4" rx="1.9" fill="#fff" stroke="#737373" stroke-width="0.65"/><text x="556.50" y="720.47" font-size="5.4" fill="#7a7a7a" textLength="11" lengthAdjust="spacingAndGlyphs" text-anchor="middle">P190</text><rect x="549.40" y="755.84" width="14.2" height="6.4" rx="1.9" fill="#fff" stroke="#737373" stroke-width="0.65"/><text x="556.50" y="760.99" font-size="5.4" fill="#7a7a7a" textLength="11" lengthAdjust="spacingAndGlyphs" text-anchor="middle">P223</text><rect x="549.40" y="816.62" width="14.2" height="6.4" rx="1.9" fill="#fff" stroke="#737373" stroke-width="0.65"/><text x="556.50" y="821.77" font-size="5.4" fill="#7a7a7a" textLength="11" lengthAdjust="spacingAndGlyphs" text-anchor="middle">P172</text><rect x="549.40" y="836.88" width="14.2" height="6.4" rx="1.9" fill="#fff" stroke="#737373" stroke-width="0.65"/><text x="556.50" y="842.03" font-size="5.4" fill="#7a7a7a" textLength="11" lengthAdjust="spacingAndGlyphs" text-anchor="middle">P163</text><rect x="549.40" y="877.40" width="14.2" height="6.4" rx="1.9" fill="#fff" stroke="#737373" stroke-width="0.65"/><text x="556.50" y="882.55" font-size="5.4" fill="#7a7a7a" textLength="11" lengthAdjust="spacingAndGlyphs" text-anchor="middle">P164</text><rect x="568.76" y="674.80" width="14.2" height="6.4" rx="1.9" fill="#fff" stroke="#737373" stroke-width="0.65"/><text x="575.86" y="679.95" font-size="5.4" fill="#7a7a7a" textLength="11" lengthAdjust="spacingAndGlyphs" text-anchor="middle">P235</text><rect x="568.76" y="755.84" width="14.2" height="6.4" rx="1.9" fill="#fff" stroke="#737373" stroke-width="0.65"/><text x="575.86" y="760.99" font-size="5.4" fill="#7a7a7a" textLength="11" lengthAdjust="spacingAndGlyphs" text-anchor="middle">P224</text><rect x="568.76" y="796.36" width="14.2" height="6.4" rx="1.9" fill="#fff" stroke="#737373" stroke-width="0.65"/><text x="575.86" y="801.51" font-size="5.4" fill="#7a7a7a" textLength="11" lengthAdjust="spacingAndGlyphs" text-anchor="middle">P206</text><rect x="568.76" y="816.62" width="14.2" height="6.4" rx="1.9" fill="#fff" stroke="#737373" stroke-width="0.65"/><text x="575.86" y="821.77" font-size="5.4" fill="#7a7a7a" textLength="11" lengthAdjust="spacingAndGlyphs" text-anchor="middle">P177</text><rect x="568.76" y="836.88" width="14.2" height="6.4" rx="1.9" fill="#fff" stroke="#737373" stroke-width="0.65"/><text x="575.86" y="842.03" font-size="5.4" fill="#7a7a7a" textLength="11" lengthAdjust="spacingAndGlyphs" text-anchor="middle">P189</text><rect x="568.76" y="877.40" width="14.2" height="6.4" rx="1.9" fill="#fff" stroke="#737373" stroke-width="0.65"/><text x="575.86" y="882.55" font-size="5.4" fill="#7a7a7a" textLength="11" lengthAdjust="spacingAndGlyphs" text-anchor="middle">P165</text><rect x="588.12" y="674.80" width="14.2" height="6.4" rx="1.9" fill="#fff" stroke="#737373" stroke-width="0.65"/><text x="595.22" y="679.95" font-size="5.4" fill="#7a7a7a" textLength="11" lengthAdjust="spacingAndGlyphs" text-anchor="middle">P256</text><rect x="588.12" y="695.06" width="14.2" height="6.4" rx="1.9" fill="#fff" stroke="#737373" stroke-width="0.65"/><text x="595.22" y="700.21" font-size="5.4" fill="#7a7a7a" textLength="11" lengthAdjust="spacingAndGlyphs" text-anchor="middle">P248</text><rect x="588.12" y="715.32" width="14.2" height="6.4" rx="1.9" fill="#fff" stroke="#737373" stroke-width="0.65"/><text x="595.22" y="720.47" font-size="5.4" fill="#7a7a7a" textLength="11" lengthAdjust="spacingAndGlyphs" text-anchor="middle">P242</text><rect x="588.12" y="735.58" width="14.2" height="6.4" rx="1.9" fill="#fff" stroke="#737373" stroke-width="0.65"/><text x="595.22" y="740.73" font-size="5.4" fill="#7a7a7a" textLength="11" lengthAdjust="spacingAndGlyphs" text-anchor="middle">P235</text><rect x="588.12" y="776.10" width="14.2" height="6.4" rx="1.9" fill="#fff" stroke="#737373" stroke-width="0.65"/><text x="595.22" y="781.25" font-size="5.4" fill="#7a7a7a" textLength="11" lengthAdjust="spacingAndGlyphs" text-anchor="middle">P217</text><rect x="588.12" y="796.36" width="14.2" height="6.4" rx="1.9" fill="#fff" stroke="#737373" stroke-width="0.65"/><text x="595.22" y="801.51" font-size="5.4" fill="#7a7a7a" textLength="11" lengthAdjust="spacingAndGlyphs" text-anchor="middle">P207</text><rect x="588.12" y="816.62" width="14.2" height="6.4" rx="1.9" fill="#fff" stroke="#737373" stroke-width="0.65"/><text x="595.22" y="821.77" font-size="5.4" fill="#7a7a7a" textLength="11" lengthAdjust="spacingAndGlyphs" text-anchor="middle">P196</text><rect x="588.12" y="857.14" width="14.2" height="6.4" rx="1.9" fill="#fff" stroke="#737373" stroke-width="0.65"/><text x="595.22" y="862.29" font-size="5.4" fill="#7a7a7a" textLength="11" lengthAdjust="spacingAndGlyphs" text-anchor="middle">P177</text><rect x="588.12" y="877.40" width="14.2" height="6.4" rx="1.9" fill="#fff" stroke="#737373" stroke-width="0.65"/><text x="595.22" y="882.55" font-size="5.4" fill="#7a7a7a" textLength="11" lengthAdjust="spacingAndGlyphs" text-anchor="middle">P166</text>
<g opacity="0.93"><circle cx="91.86" cy="860.34" r="6.9" fill="#f68e4c"/><polygon points="149.94,791.96 157.84,805.56 142.04,805.56" fill="#6e4580"/><polygon points="208.02,770.90 210.64,776.59 216.86,777.33 212.27,781.58 213.49,787.72 208.02,784.66 202.55,787.72 203.77,781.58 199.18,777.33 205.40,776.59" fill="#ee5b5e"/><polygon points="227.38,750.64 230.00,756.33 236.22,757.07 231.63,761.32 232.85,767.46 227.38,764.40 221.91,767.46 223.13,761.32 218.54,757.07 224.76,756.33" fill="#ee5b5e"/><polygon points="227.38,771.70 235.28,785.30 219.48,785.30" fill="#ee5b5e"/><polygon points="227.38,791.16 230.00,796.85 236.22,797.59 231.63,801.84 232.85,807.98 227.38,804.92 221.91,807.98 223.13,801.84 218.54,797.59 224.76,796.85" fill="#ee5b5e"/><polygon points="285.46,832.48 293.36,846.08 277.56,846.08" fill="#7fd0dc"/><circle cx="285.46" cy="860.34" r="6.9" fill="#f68e4c"/><circle cx="324.18" cy="718.52" r="6.9" fill="#5e9a5a"/><circle cx="324.18" cy="738.78" r="6.9" fill="#5470b8"/><polygon points="324.18,750.64 326.80,756.33 333.02,757.07 328.43,761.32 329.65,767.46 324.18,764.40 318.71,767.46 319.93,761.32 315.34,757.07 321.56,756.33" fill="#5470b8"/><circle cx="343.54" cy="718.52" r="6.9" fill="#5470b8"/><circle cx="343.54" cy="738.78" r="6.9" fill="#5470b8"/><circle cx="343.54" cy="759.04" r="6.9" fill="#5470b8"/><polygon points="362.90,710.12 365.52,715.81 371.74,716.55 367.15,720.80 368.37,726.94 362.90,723.88 357.43,726.94 358.65,720.80 354.06,716.55 360.28,715.81" fill="#5470b8"/><polygon points="362.90,730.38 365.52,736.07 371.74,736.81 367.15,741.06 368.37,747.20 362.90,744.14 357.43,747.20 358.65,741.06 354.06,736.81 360.28,736.07" fill="#5470b8"/><polygon points="382.26,770.90 384.88,776.59 391.10,777.33 386.51,781.58 387.73,787.72 382.26,784.66 376.79,787.72 378.01,781.58 373.42,777.33 379.64,776.59" fill="#5e9a5a"/><circle cx="401.62" cy="860.34" r="6.9" fill="#f68e4c"/><polygon points="498.42,851.94 501.04,857.63 507.26,858.37 502.67,862.62 503.89,868.76 498.42,865.70 492.95,868.76 494.17,862.62 489.58,858.37 495.80,857.63" fill="#f68e4c"/><circle cx="556.50" cy="779.30" r="6.9" fill="#ee5b5e"/></g>
<circle cx="621" cy="840.1" r="7.1" fill="#7fd0dc"/>
<text x="41.3" y="883.5" font-size="8" fill="#4a4a4a" text-anchor="middle" >1</text>
<text x="41.3" y="863.2" font-size="8" fill="#4a4a4a" text-anchor="middle" >2</text>
<text x="41.3" y="843.0" font-size="8" fill="#4a4a4a" text-anchor="middle" >3</text>
<text x="41.3" y="822.7" font-size="8" fill="#4a4a4a" text-anchor="middle" >4</text>
<text x="41.3" y="802.5" font-size="8" fill="#4a4a4a" text-anchor="middle" >5</text>
<text x="41.3" y="782.2" font-size="8" fill="#4a4a4a" text-anchor="middle" >6</text>
<text x="41.3" y="761.9" font-size="8" fill="#4a4a4a" text-anchor="middle" >7</text>
<text x="41.3" y="741.7" font-size="8" fill="#4a4a4a" text-anchor="middle" >8</text>
<text x="41.3" y="721.4" font-size="8" fill="#4a4a4a" text-anchor="middle" >9</text>
<text x="41.3" y="701.2" font-size="8" fill="#4a4a4a" text-anchor="middle" >10</text>
<text x="41.3" y="680.9" font-size="8" fill="#4a4a4a" text-anchor="middle" >11</text>
<text x="41.3" y="660.6" font-size="8" fill="#4a4a4a" text-anchor="middle" >12</text>
<text x="41.3" y="640.4" font-size="8" fill="#4a4a4a" text-anchor="middle" >13</text>
<text transform="translate(19.2 762) rotate(-90)" font-size="9.6" fill="#222" text-anchor="middle">Week</text>
<text x="24.7" y="916.2" font-size="9.1" fill="#222" text-anchor="start" >Bed unit</text>
<text x="25.0" y="935.6" font-size="9.1" fill="#222" text-anchor="start" >Room</text>
<text x="72.5" y="916.0" font-size="7.6" fill="#555" text-anchor="middle" >1</text>
<text x="91.9" y="916.0" font-size="7.6" fill="#555" text-anchor="middle" >2</text>
<text x="111.2" y="916.0" font-size="7.6" fill="#555" text-anchor="middle" >3</text>
<text x="130.6" y="916.0" font-size="7.6" fill="#555" text-anchor="middle" >4</text>
<text x="149.9" y="916.0" font-size="7.6" fill="#555" text-anchor="middle" >5</text>
<text x="169.3" y="916.0" font-size="7.6" fill="#555" text-anchor="middle" >6</text>
<text x="188.7" y="916.0" font-size="7.6" fill="#555" text-anchor="middle" >7</text>
<text x="208.0" y="916.0" font-size="7.6" fill="#555" text-anchor="middle" >8</text>
<text x="227.4" y="916.0" font-size="7.6" fill="#555" text-anchor="middle" >9</text>
<text x="246.7" y="916.0" font-size="7.6" fill="#555" text-anchor="middle" >10</text>
<text x="266.1" y="916.0" font-size="7.6" fill="#555" text-anchor="middle" >11</text>
<text x="285.5" y="916.0" font-size="7.6" fill="#555" text-anchor="middle" >12</text>
<text x="304.8" y="916.0" font-size="7.6" fill="#555" text-anchor="middle" >13</text>
<text x="324.2" y="916.0" font-size="7.6" fill="#555" text-anchor="middle" >14</text>
<text x="343.5" y="916.0" font-size="7.6" fill="#555" text-anchor="middle" >15</text>
<text x="362.9" y="916.0" font-size="7.6" fill="#555" text-anchor="middle" >16</text>
<text x="382.3" y="916.0" font-size="7.6" fill="#555" text-anchor="middle" >17</text>
<text x="401.6" y="916.0" font-size="7.6" fill="#555" text-anchor="middle" >18</text>
<text x="421.0" y="916.0" font-size="7.6" fill="#555" text-anchor="middle" >19</text>
<text x="440.3" y="916.0" font-size="7.6" fill="#555" text-anchor="middle" >20</text>
<text x="459.7" y="916.0" font-size="7.6" fill="#555" text-anchor="middle" >21</text>
<text x="479.1" y="916.0" font-size="7.6" fill="#555" text-anchor="middle" >22</text>
<text x="498.4" y="916.0" font-size="7.6" fill="#555" text-anchor="middle" >23</text>
<text x="517.8" y="916.0" font-size="7.6" fill="#555" text-anchor="middle" >24</text>
<text x="537.1" y="916.0" font-size="7.6" fill="#555" text-anchor="middle" >25</text>
<text x="556.5" y="916.0" font-size="7.6" fill="#555" text-anchor="middle" >26</text>
<text x="575.9" y="916.0" font-size="7.6" fill="#555" text-anchor="middle" >27</text>
<text x="595.2" y="916.0" font-size="7.6" fill="#555" text-anchor="middle" >28</text>
<text x="72.1" y="935.0" font-size="7.2" fill="#555" text-anchor="middle" >1</text>
<text x="101.6" y="935.0" font-size="7.2" fill="#555" text-anchor="middle" >2</text>
<text x="141.0" y="935.0" font-size="7.2" fill="#555" text-anchor="middle" >3</text>
<text x="181.3" y="935.0" font-size="7.2" fill="#555" text-anchor="middle" >4</text>
<text x="219.9" y="935.0" font-size="7.2" fill="#555" text-anchor="middle" >5</text>
<text x="259.3" y="935.0" font-size="7.2" fill="#555" text-anchor="middle" >6</text>
<text x="336.0" y="935.0" font-size="7.2" fill="#555" text-anchor="middle" >7</text>
<text x="413.0" y="935.0" font-size="7.2" fill="#555" text-anchor="middle" >8</text>
<text x="452.0" y="935.0" font-size="7.2" fill="#555" text-anchor="middle" >9</text>
<text x="489.8" y="935.0" font-size="7.2" fill="#555" text-anchor="middle" >10</text>
<text x="527.7" y="935.0" font-size="7.2" fill="#555" text-anchor="middle" >11</text>
<text x="566.7" y="935.0" font-size="7.2" fill="#555" text-anchor="middle" >12</text>
<text x="594.3" y="935.0" font-size="7.2" fill="#555" text-anchor="middle" >13</text>
<path d="M66.7 923.9H78.1M86.1 923.9H116.8M124.8 923.9H155.5M163.5 923.9H194.3M202.2 923.9H233.0M240.9 923.9H271.7M279.7 923.9H387.9M395.8 923.9H426.6M434.5 923.9H465.3M473.3 923.9H504.0M512.0 923.9H542.7M550.7 923.9H581.5M589.4 923.9H600.8" stroke="#707070" stroke-width="1.7"/>
<text x="621.0" y="920.0" font-size="7.4" fill="#555" text-anchor="middle" >cleaning</text>
<text x="621.0" y="929.0" font-size="7.4" fill="#555" text-anchor="middle" >cart</text>
<text x="96.5" y="958.5" font-size="9.1" fill="#222" text-anchor="start" >spatiotemporal distribution of</text>
<text x="96.5" y="968.6" font-size="9.1" fill="#222" text-anchor="start" >transient GC2 clusters:</text>
<polygon points="234.30,954.00 236.56,958.89 241.91,959.53 237.95,963.19 239.00,968.47 234.30,965.84 229.60,968.47 230.65,963.19 226.69,959.53 232.04,958.89" fill="#6f6f6f"/>
<text x="245.8" y="965.0" font-size="9.15" fill="#222" text-anchor="start" >= patient + environment</text>
<polygon points="357.20,953.90 365.10,967.50 349.30,967.50" fill="#6f6f6f"/>
<text x="368.0" y="965.0" font-size="9.15" fill="#222" text-anchor="start" >= patient only</text>
<circle cx="439" cy="962.5" r="7.2" fill="#6f6f6f"/>
<text x="449.3" y="965.0" font-size="9.15" fill="#222" text-anchor="start" >= environment only</text>
<path d="M623.2 646.3H674.3" stroke="#111" stroke-width="1.3"/>
<text transform="translate(627 639) rotate(-58)" font-size="8.7" fill="#222">Number of patient</text>
<text transform="translate(636.8 645) rotate(-58)" font-size="8.7" fill="#222">samples</text>
<text transform="translate(658 640.5) rotate(-58)" font-size="8.7" fill="#222">2021 clusters</text>
<rect x="645.4" y="650.2" width="14.6" height="14.2" fill="#5e9a5a"/>
<text x="635.2" y="660.7" font-size="9.4" fill="#e8322e" text-anchor="middle" >1</text>
<text x="662.4" y="660.5" font-size="8.6" fill="#222" text-anchor="start" >C18</text>
<rect x="645.4" y="665.9" width="14.6" height="14.2" fill="#5470b8"/>
<text x="635.2" y="676.4" font-size="9.4" fill="#e8322e" text-anchor="middle" >5</text>
<text x="662.4" y="676.2" font-size="8.6" fill="#222" text-anchor="start" >C19</text>
<rect x="645.4" y="681.6" width="14.6" height="14.2" fill="#7fd0dc"/>
<text x="635.2" y="692.1" font-size="9.4" fill="#e8322e" text-anchor="middle" >1</text>
<text x="662.4" y="691.9" font-size="8.6" fill="#222" text-anchor="start" >C20</text>
<rect x="645.4" y="697.3" width="14.6" height="14.2" fill="#ee5b5e"/>
<text x="635.2" y="707.8" font-size="9.4" fill="#e8322e" text-anchor="middle" >7</text>
<text x="662.4" y="707.6" font-size="8.6" fill="#222" text-anchor="start" >C21</text>
<rect x="645.4" y="713.0" width="14.6" height="14.2" fill="#6e4580"/>
<text x="635.2" y="723.5" font-size="9.4" fill="#e8322e" text-anchor="middle" >1</text>
<text x="662.4" y="723.3" font-size="8.6" fill="#222" text-anchor="start" >C22</text>
<rect x="645.4" y="728.7" width="14.6" height="14.2" fill="#f68e4c"/>
<text x="635.2" y="739.2" font-size="9.4" fill="#e8322e" text-anchor="middle" >2</text>
<text x="662.4" y="739.0" font-size="8.6" fill="#222" text-anchor="start" >C23</text>
</svg>
</body></html>
